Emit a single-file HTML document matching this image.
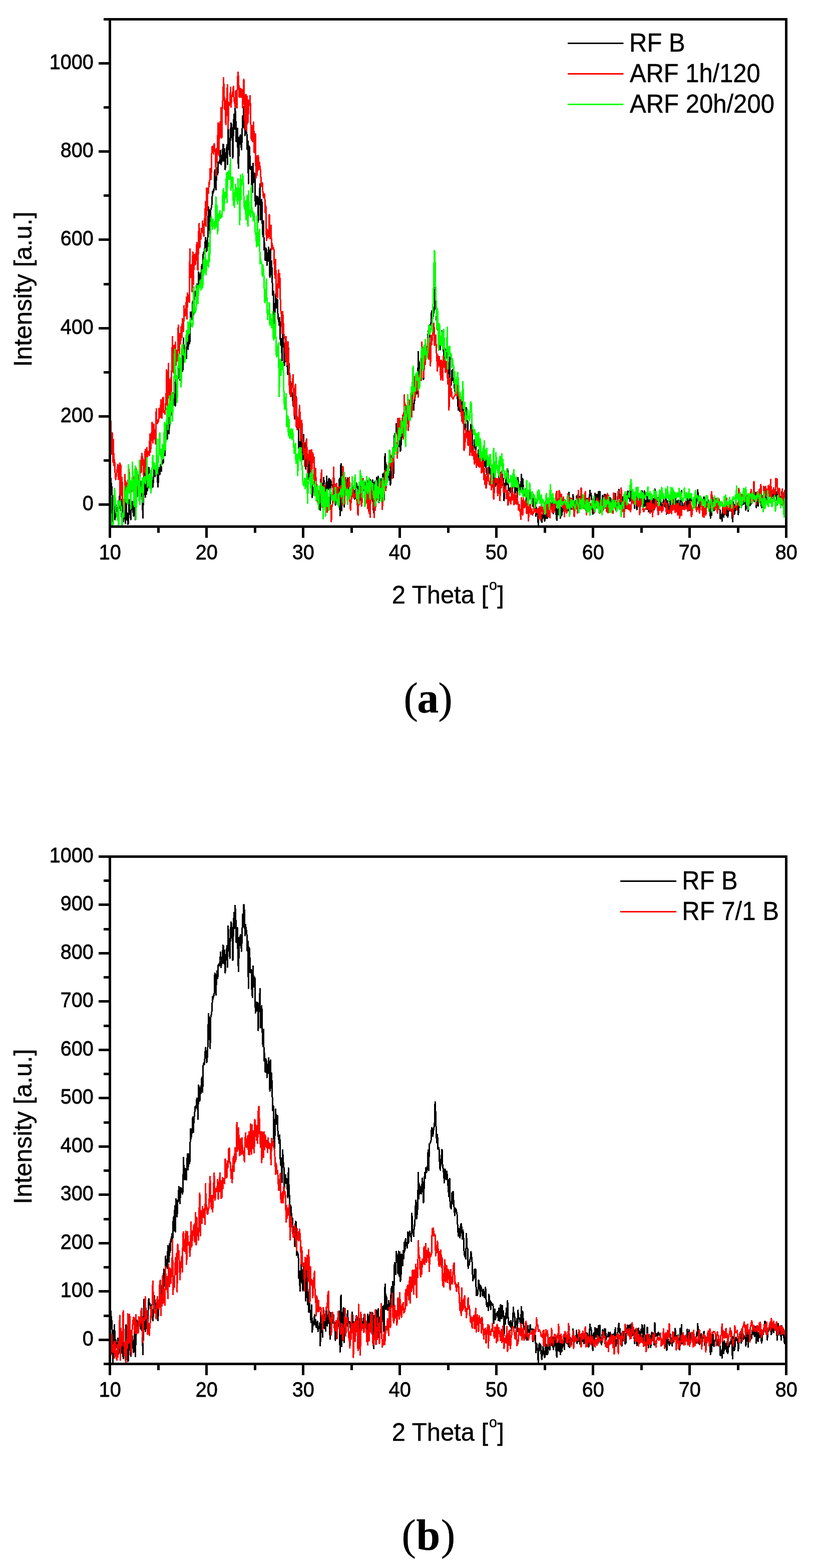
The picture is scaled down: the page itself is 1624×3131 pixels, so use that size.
<!DOCTYPE html>
<html lang="en"><head><meta charset="utf-8"><title>XRD patterns</title>
<style>
html,body{margin:0;padding:0;background:#fff;}
body{width:1624px;height:3131px;}
svg{display:block;}
.ax{fill:#000;shape-rendering:crispEdges;}
.cv{fill:none;stroke-width:3;stroke-linejoin:round;stroke-linecap:round;shape-rendering:crispEdges;}
.lg{stroke-width:3;stroke-linecap:round;shape-rendering:crispEdges;}
text{font-family:"Liberation Sans",sans-serif;fill:#000;stroke:#000;stroke-width:0.50px;}
.tl{font-size:42.70px;stroke-width:0.8px;}
.ttl{font-size:51.30px;}
.atl{font-size:50.50px;}
.cap{font-family:"Liberation Serif",serif;font-size:86px;stroke-width:0.3px;}
</style></head><body>
<svg width="1624" height="3131" viewBox="0 0 1624 3131">
<rect x="0" y="0" width="1624" height="3131" fill="#fff"/>
<clipPath id="clip1"><rect x="219.5" y="38.5" width="1351.0" height="1013.0"/></clipPath>
<g clip-path="url(#clip1)">
<polyline class="cv" stroke="#000" points="219.5,982.7 220.7,950.3 221.8,962.6 223.0,971.3 224.1,990.2 225.3,1048.2 226.4,1022.4 227.6,994.3 228.8,980.1 229.9,1037.4 231.1,1007.6 232.2,1012.7 233.4,1021.8 234.6,1019.0 235.7,1004.5 236.9,1033.7 238.0,1016.5 239.2,985.4 240.3,1007.9 241.5,1012.4 242.7,1031.7 243.8,996.4 245.0,1004.6 246.1,1041.8 247.3,1035.6 248.5,1016.4 249.6,1029.3 250.8,1044.9 251.9,979.8 253.1,1038.2 254.2,1024.5 255.4,1046.8 256.6,1045.2 257.7,998.5 258.9,1018.6 260.0,1020.5 261.2,1037.6 262.3,1012.3 263.5,1008.8 264.7,1001.0 265.8,1021.9 267.0,1030.5 268.1,1009.9 269.3,985.2 270.5,1038.0 271.6,993.4 272.8,997.5 273.9,971.8 275.1,986.5 276.2,986.5 277.4,973.3 278.6,972.4 279.7,980.6 280.9,987.5 282.0,961.8 283.2,977.5 284.3,996.5 285.5,1034.2 286.7,976.4 287.8,933.5 289.0,954.1 290.1,992.3 291.3,949.2 292.5,987.0 293.6,963.4 294.8,979.8 295.9,955.3 297.1,933.1 298.2,939.8 299.4,941.2 300.6,948.9 301.7,956.6 302.9,944.0 304.0,963.9 305.2,972.6 306.4,961.9 307.5,943.4 308.7,927.7 309.8,951.6 311.0,943.9 312.1,942.1 313.3,939.4 314.5,956.1 315.6,972.2 316.8,949.5 317.9,934.9 319.1,947.9 320.2,929.1 321.4,926.9 322.6,940.9 323.7,908.5 324.9,917.9 326.0,924.9 327.2,878.7 328.4,895.1 329.5,909.4 330.7,855.4 331.8,873.9 333.0,865.0 334.1,876.9 335.3,836.1 336.5,844.1 337.6,865.8 338.8,832.5 339.9,848.2 341.1,824.3 342.2,829.0 343.4,814.4 344.6,839.5 345.7,793.3 346.9,783.5 348.0,808.7 349.2,763.3 350.4,810.4 351.5,750.5 352.7,756.5 353.8,782.9 355.0,756.9 356.1,751.6 357.3,728.5 358.5,752.1 359.6,759.0 360.8,730.0 361.9,731.6 363.1,731.8 364.3,741.6 365.4,737.1 366.6,675.3 367.7,709.7 368.9,715.9 370.0,695.1 371.2,714.3 372.4,715.9 373.5,681.0 374.7,668.7 375.8,697.6 377.0,668.6 378.1,686.4 379.3,681.6 380.5,623.3 381.6,640.9 382.8,634.0 383.9,624.6 385.1,601.4 386.3,628.9 387.4,603.9 388.6,597.3 389.7,582.9 390.9,585.8 392.0,580.3 393.2,567.0 394.4,568.9 395.5,605.2 396.7,543.2 397.8,546.8 399.0,572.7 400.1,547.9 401.3,558.2 402.5,532.8 403.6,528.5 404.8,555.6 405.9,507.9 407.1,502.9 408.3,505.5 409.4,489.3 410.6,474.6 411.7,487.7 412.9,502.2 414.0,493.3 415.2,470.6 416.4,413.3 417.5,420.4 418.7,455.5 419.8,476.0 421.0,419.4 422.2,414.2 423.3,407.7 424.5,382.1 425.6,386.2 426.8,379.1 427.9,379.9 429.1,339.3 430.3,348.5 431.4,378.7 432.6,344.2 433.7,335.1 434.9,348.4 436.0,324.5 437.2,322.9 438.4,325.6 439.5,315.5 440.7,300.6 441.8,328.8 443.0,310.1 444.2,321.1 445.3,288.2 446.5,289.5 447.6,321.6 448.8,297.1 449.9,338.8 451.1,313.9 452.3,301.0 453.4,288.8 454.6,328.1 455.7,253.2 456.9,272.4 458.0,294.1 459.2,312.2 460.4,266.7 461.5,246.0 462.7,249.2 463.8,267.4 465.0,315.6 466.2,264.8 467.3,228.4 468.5,257.4 469.6,215.7 470.8,232.7 471.9,283.1 473.1,280.9 474.3,256.2 475.4,316.7 476.6,335.6 477.7,274.2 478.9,288.1 480.1,269.3 481.2,284.7 482.4,299.0 483.5,274.5 484.7,231.8 485.8,255.0 487.0,213.6 488.2,224.9 489.3,270.4 490.5,250.6 491.6,260.5 492.8,261.4 493.9,298.2 495.1,281.1 496.3,366.6 497.4,291.8 498.6,294.9 499.7,337.6 500.9,338.4 502.1,332.5 503.2,376.1 504.4,383.5 505.5,326.2 506.7,364.2 507.8,360.8 509.0,346.8 510.2,411.3 511.3,391.3 512.5,406.5 513.6,407.8 514.8,392.6 515.9,444.0 517.1,407.5 518.3,389.5 519.4,367.7 520.6,438.5 521.7,425.4 522.9,398.5 524.1,451.1 525.2,472.8 526.4,441.1 527.5,499.0 528.7,485.2 529.8,519.4 531.0,495.0 532.2,499.2 533.3,529.3 534.5,517.5 535.6,509.4 536.8,493.8 538.0,523.4 539.1,554.1 540.3,497.5 541.4,548.1 542.6,521.3 543.7,556.0 544.9,589.8 546.1,581.4 547.2,654.4 548.4,658.2 549.5,617.9 550.7,587.1 551.8,614.4 553.0,599.4 554.2,598.4 555.3,636.5 556.5,637.1 557.6,649.2 558.8,634.3 560.0,678.1 561.1,689.9 562.3,676.1 563.4,720.2 564.6,661.7 565.7,682.1 566.9,689.9 568.1,730.0 569.2,711.8 570.4,706.7 571.5,722.1 572.7,714.0 573.8,729.6 575.0,748.1 576.2,694.4 577.3,735.4 578.5,749.2 579.6,786.5 580.8,762.3 582.0,776.2 583.1,791.0 584.3,785.7 585.4,808.9 586.6,812.4 587.7,803.2 588.9,836.9 590.1,791.6 591.2,792.1 592.4,853.2 593.5,846.3 594.7,849.2 595.9,853.9 597.0,895.7 598.2,882.1 599.3,918.6 600.5,893.2 601.6,867.4 602.8,896.4 604.0,905.7 605.1,917.9 606.3,867.8 607.4,898.2 608.6,884.3 609.7,909.8 610.9,937.0 612.1,881.2 613.2,899.2 614.4,943.5 615.5,921.0 616.7,957.0 617.9,915.6 619.0,952.5 620.2,959.9 621.3,975.9 622.5,944.1 623.6,993.1 624.8,983.5 626.0,979.9 627.1,971.7 628.3,962.0 629.4,980.5 630.6,971.1 631.7,984.9 632.9,981.7 634.1,973.8 635.2,992.0 636.4,986.6 637.5,985.5 638.7,977.0 639.9,1018.4 641.0,956.1 642.2,989.5 643.3,985.8 644.5,1002.5 645.6,970.1 646.8,953.6 648.0,986.8 649.1,974.2 650.3,991.5 651.4,975.7 652.6,950.7 653.8,982.2 654.9,963.3 656.1,961.9 657.2,955.1 658.4,988.7 659.5,1006.3 660.7,958.1 661.9,967.1 663.0,968.7 664.2,967.9 665.3,976.5 666.5,962.5 667.6,985.2 668.8,976.3 670.0,1008.3 671.1,972.8 672.3,981.3 673.4,978.2 674.6,980.0 675.8,976.8 676.9,983.3 678.1,955.4 679.2,1029.7 680.4,930.0 681.5,926.1 682.7,1019.9 683.9,974.7 685.0,956.9 686.2,948.9 687.3,1012.1 688.5,970.6 689.6,971.2 690.8,973.2 692.0,983.3 693.1,976.9 694.3,954.5 695.4,972.9 696.6,978.2 697.8,974.7 698.9,974.4 700.1,987.0 701.2,983.1 702.4,993.3 703.5,957.1 704.7,967.9 705.9,991.3 707.0,981.5 708.2,996.5 709.3,985.9 710.5,972.8 711.7,963.9 712.8,969.1 714.0,975.1 715.1,971.3 716.3,988.8 717.4,968.9 718.6,995.6 719.8,999.0 720.9,960.2 722.1,968.2 723.2,983.7 724.4,986.0 725.5,976.7 726.7,969.1 727.9,960.9 729.0,976.5 730.2,977.7 731.3,983.3 732.5,987.5 733.7,989.8 734.8,960.7 736.0,973.5 737.1,1005.2 738.3,966.3 739.4,957.6 740.6,967.8 741.8,967.0 742.9,976.6 744.1,958.1 745.2,1010.3 746.4,1023.5 747.5,963.6 748.7,965.1 749.9,960.1 751.0,1001.8 752.2,953.6 753.3,990.0 754.5,984.1 755.7,951.2 756.8,1003.7 758.0,984.5 759.1,965.1 760.3,994.0 761.4,956.3 762.6,971.7 763.8,974.4 764.9,945.9 766.1,968.8 767.2,998.7 768.4,916.6 769.6,906.2 770.7,951.9 771.9,928.0 773.0,947.0 774.2,953.4 775.3,951.0 776.5,936.1 777.7,958.8 778.8,941.4 780.0,968.6 781.1,921.8 782.3,910.7 783.4,925.0 784.6,901.5 785.8,953.9 786.9,912.5 788.1,866.5 789.2,881.2 790.4,888.4 791.6,846.5 792.7,854.9 793.9,857.8 795.0,887.0 796.2,845.8 797.3,891.4 798.5,847.9 799.7,900.8 800.8,896.8 802.0,851.3 803.1,852.6 804.3,872.3 805.4,844.8 806.6,859.3 807.8,829.5 808.9,845.2 810.1,823.0 811.2,830.5 812.4,834.9 813.6,839.9 814.7,811.3 815.9,831.4 817.0,818.5 818.2,809.7 819.3,814.3 820.5,816.4 821.7,827.8 822.8,777.0 824.0,805.4 825.1,811.3 826.3,819.0 827.5,798.5 828.6,799.6 829.8,765.4 830.9,753.3 832.1,786.7 833.2,777.8 834.4,767.3 835.6,702.6 836.7,750.2 837.9,724.2 839.0,740.7 840.2,728.7 841.3,741.4 842.5,730.8 843.7,713.2 844.8,734.4 846.0,757.7 847.1,729.9 848.3,702.5 849.5,713.1 850.6,694.0 851.8,703.1 852.9,699.4 854.1,689.9 855.2,661.4 856.4,698.7 857.6,650.5 858.7,650.1 859.9,647.3 861.0,644.1 862.2,620.9 863.3,622.8 864.5,636.2 865.7,627.4 866.8,621.3 868.0,612.6 869.1,574.3 870.3,596.5 871.5,632.8 872.6,648.1 873.8,633.5 874.9,659.6 876.1,656.8 877.2,660.8 878.4,692.9 879.6,698.1 880.7,679.7 881.9,671.3 883.0,660.5 884.2,692.0 885.4,695.5 886.5,707.3 887.7,721.2 888.8,696.1 890.0,702.3 891.1,715.9 892.3,700.2 893.5,708.0 894.6,721.5 895.8,736.9 896.9,747.0 898.1,713.2 899.2,762.8 900.4,767.3 901.6,768.6 902.7,739.6 903.9,759.4 905.0,737.1 906.2,754.7 907.4,769.9 908.5,780.9 909.7,767.8 910.8,768.9 912.0,774.4 913.1,779.3 914.3,802.8 915.5,818.5 916.6,804.8 917.8,815.2 918.9,821.6 920.1,798.8 921.2,795.9 922.4,803.0 923.6,823.7 924.7,807.5 925.9,819.2 927.0,845.9 928.2,855.2 929.4,856.3 930.5,860.0 931.7,814.0 932.8,840.7 934.0,840.7 935.1,877.2 936.3,864.1 937.5,871.1 938.6,861.6 939.8,859.3 940.9,847.2 942.1,857.6 943.3,868.5 944.4,899.7 945.6,895.6 946.7,896.5 947.9,878.7 949.0,894.0 950.2,878.8 951.4,926.2 952.5,917.4 953.7,926.9 954.8,919.9 956.0,898.6 957.1,905.4 958.3,907.1 959.5,928.2 960.6,909.3 961.8,915.5 962.9,918.4 964.1,927.9 965.3,915.6 966.4,921.4 967.6,930.5 968.7,921.0 969.9,911.6 971.0,934.4 972.2,946.3 973.4,940.1 974.5,944.3 975.7,954.1 976.8,924.9 978.0,936.4 979.1,936.3 980.3,952.2 981.5,939.4 982.6,941.6 983.8,944.8 984.9,943.1 986.1,977.9 987.3,964.7 988.4,951.8 989.6,970.8 990.7,966.1 991.9,958.9 993.0,960.1 994.2,956.0 995.4,972.5 996.5,950.3 997.7,962.3 998.8,973.4 1000.0,943.4 1001.2,968.4 1002.3,968.7 1003.5,945.4 1004.6,964.7 1005.8,955.0 1006.9,999.9 1008.1,965.0 1009.3,978.8 1010.4,966.9 1011.6,950.0 1012.7,967.6 1013.9,936.2 1015.0,966.1 1016.2,979.8 1017.4,974.6 1018.5,980.7 1019.7,983.8 1020.8,972.6 1022.0,990.5 1023.2,982.3 1024.3,972.6 1025.5,948.4 1026.6,965.3 1027.8,959.6 1028.9,986.3 1030.1,974.0 1031.3,977.6 1032.4,969.3 1033.6,992.5 1034.7,953.9 1035.9,969.7 1037.0,967.8 1038.2,968.3 1039.4,978.1 1040.5,970.6 1041.7,947.3 1042.8,977.4 1044.0,955.7 1045.2,969.9 1046.3,986.0 1047.5,988.1 1048.6,984.9 1049.8,983.1 1050.9,975.4 1052.1,1007.9 1053.3,1007.3 1054.4,981.7 1055.6,993.4 1056.7,990.3 1057.9,995.3 1059.1,979.8 1060.2,987.3 1061.4,988.1 1062.5,990.1 1063.7,988.1 1064.8,1010.9 1066.0,988.4 1067.2,996.1 1068.3,997.5 1069.5,1000.4 1070.6,1030.7 1071.8,1013.6 1072.9,1020.9 1074.1,1027.9 1075.3,1049.4 1076.4,1018.2 1077.6,1013.8 1078.7,1026.1 1079.9,1015.5 1081.1,1034.6 1082.2,1043.0 1083.4,1034.3 1084.5,1020.1 1085.7,1024.9 1086.8,1033.4 1088.0,1040.2 1089.2,1030.7 1090.3,1015.5 1091.5,1034.6 1092.6,1017.9 1093.8,1034.3 1094.9,1026.8 1096.1,1014.7 1097.3,1003.6 1098.4,1025.8 1099.6,1009.8 1100.7,1013.8 1101.9,1017.9 1103.1,1002.3 1104.2,1012.7 1105.4,1025.5 1106.5,1018.2 1107.7,1018.0 1108.8,1002.7 1110.0,1013.7 1111.2,1031.1 1112.3,1039.0 1113.5,1014.4 1114.6,1013.3 1115.8,1028.0 1117.0,998.5 1118.1,1016.6 1119.3,1034.4 1120.4,1012.8 1121.6,1029.4 1122.7,1027.0 1123.9,1010.4 1125.1,1012.6 1126.2,1009.8 1127.4,1025.1 1128.5,1003.9 1129.7,1005.5 1130.8,1008.4 1132.0,1014.4 1133.2,1010.5 1134.3,1012.5 1135.5,1019.3 1136.6,983.1 1137.8,1021.3 1139.0,1002.6 1140.1,1015.9 1141.3,1016.4 1142.4,1007.1 1143.6,1007.8 1144.7,987.9 1145.9,1000.6 1147.1,1012.3 1148.2,1004.8 1149.4,1000.0 1150.5,1007.9 1151.7,990.5 1152.8,1014.1 1154.0,1007.2 1155.2,1010.2 1156.3,995.3 1157.5,991.4 1158.6,1015.2 1159.8,998.5 1161.0,1015.4 1162.1,1009.6 1163.3,1006.4 1164.4,1010.9 1165.6,1001.8 1166.7,1014.3 1167.9,1001.3 1169.1,1009.8 1170.2,994.3 1171.4,1014.6 1172.5,1011.9 1173.7,995.7 1174.9,1005.0 1176.0,1020.6 1177.2,1008.4 1178.3,979.1 1179.5,989.8 1180.6,985.1 1181.8,996.2 1183.0,1005.6 1184.1,1026.6 1185.3,996.9 1186.4,994.5 1187.6,1015.1 1188.7,985.4 1189.9,990.4 1191.1,1001.9 1192.2,987.2 1193.4,989.6 1194.5,1006.5 1195.7,981.8 1196.9,1011.8 1198.0,981.0 1199.2,1006.7 1200.3,1010.5 1201.5,1016.3 1202.6,1001.5 1203.8,989.2 1205.0,992.8 1206.1,997.1 1207.3,987.5 1208.4,1014.4 1209.6,987.8 1210.7,1007.4 1211.9,1002.6 1213.1,1002.4 1214.2,1000.3 1215.4,994.2 1216.5,998.8 1217.7,1009.8 1218.9,993.9 1220.0,1005.1 1221.2,1004.8 1222.3,1005.4 1223.5,1012.7 1224.6,997.4 1225.8,1012.4 1227.0,998.9 1228.1,993.6 1229.3,985.8 1230.4,1018.6 1231.6,1007.8 1232.8,1014.4 1233.9,994.4 1235.1,985.1 1236.2,977.7 1237.4,994.9 1238.5,987.5 1239.7,1006.6 1240.9,1006.5 1242.0,1018.8 1243.2,1008.4 1244.3,992.3 1245.5,1005.4 1246.6,1005.4 1247.8,991.6 1249.0,1015.5 1250.1,1013.2 1251.3,990.3 1252.4,990.8 1253.6,981.0 1254.8,994.5 1255.9,981.9 1257.1,980.7 1258.2,1000.7 1259.4,987.6 1260.5,979.0 1261.7,999.5 1262.9,1000.0 1264.0,984.8 1265.2,999.2 1266.3,992.4 1267.5,1014.4 1268.6,990.0 1269.8,988.9 1271.0,987.9 1272.1,1018.1 1273.3,994.5 1274.4,987.4 1275.6,986.8 1276.8,996.0 1277.9,1002.8 1279.1,1011.3 1280.2,988.2 1281.4,995.3 1282.5,980.4 1283.7,982.8 1284.9,1003.4 1286.0,1010.7 1287.2,980.5 1288.3,1010.5 1289.5,999.4 1290.7,1008.8 1291.8,1016.5 1293.0,984.3 1294.1,1004.3 1295.3,1022.0 1296.4,998.3 1297.6,999.3 1298.8,999.9 1299.9,1021.5 1301.1,999.1 1302.2,993.9 1303.4,1008.7 1304.5,1002.7 1305.7,995.2 1306.9,1017.3 1308.0,976.6 1309.2,1001.5 1310.3,996.4 1311.5,996.6 1312.7,1000.7 1313.8,1001.5 1315.0,993.9 1316.1,996.2 1317.3,999.1 1318.4,996.5 1319.6,1000.5 1320.8,1009.0 1321.9,1013.6 1323.1,1008.6 1324.2,1012.9 1325.4,995.6 1326.5,1005.1 1327.7,1009.7 1328.9,1012.4 1330.0,995.3 1331.2,1026.6 1332.3,1025.2 1333.5,1000.2 1334.7,1011.8 1335.8,1014.0 1337.0,1017.5 1338.1,1009.5 1339.3,997.9 1340.4,1014.2 1341.6,1004.8 1342.8,1018.7 1343.9,996.5 1345.1,1011.2 1346.2,1011.5 1347.4,1000.4 1348.6,986.9 1349.7,995.0 1350.9,1011.3 1352.0,1011.8 1353.2,1005.8 1354.3,998.8 1355.5,1016.3 1356.7,1005.3 1357.8,1025.7 1359.0,986.1 1360.1,1001.3 1361.3,979.8 1362.4,1014.8 1363.6,1012.6 1364.8,1011.9 1365.9,1009.5 1367.1,1004.5 1368.2,1006.3 1369.4,1006.5 1370.6,1009.4 1371.7,1007.5 1372.9,988.4 1374.0,1016.3 1375.2,997.3 1376.3,989.5 1377.5,1018.6 1378.7,1000.0 1379.8,995.1 1381.0,998.7 1382.1,1000.5 1383.3,999.1 1384.4,1010.5 1385.6,1014.1 1386.8,1009.2 1387.9,1007.4 1389.1,1012.0 1390.2,1013.4 1391.4,995.5 1392.6,1000.2 1393.7,978.1 1394.9,996.5 1396.0,1012.3 1397.2,1016.1 1398.3,999.9 1399.5,1005.3 1400.7,996.7 1401.8,1010.1 1403.0,1011.4 1404.1,1005.0 1405.3,994.6 1406.5,992.6 1407.6,1017.1 1408.8,1002.2 1409.9,1015.7 1411.1,1002.7 1412.2,1011.6 1413.4,1009.1 1414.6,998.3 1415.7,1010.1 1416.9,1010.8 1418.0,1013.8 1419.2,1034.3 1420.3,1015.0 1421.5,1028.8 1422.7,1006.3 1423.8,993.6 1425.0,1013.4 1426.1,1019.3 1427.3,1008.1 1428.5,1009.7 1429.6,1003.6 1430.8,1000.5 1431.9,1006.0 1433.1,1009.0 1434.2,1018.4 1435.4,1011.5 1436.6,1013.0 1437.7,1011.8 1438.9,1035.8 1440.0,1030.2 1441.2,1028.0 1442.3,1040.6 1443.5,1012.2 1444.7,1026.7 1445.8,1032.7 1447.0,1009.7 1448.1,1021.9 1449.3,1023.9 1450.5,1014.4 1451.6,1029.3 1452.8,1010.8 1453.9,1032.3 1455.1,1015.9 1456.2,1020.1 1457.4,1014.6 1458.6,1011.2 1459.7,1014.6 1460.9,1005.1 1462.0,1001.8 1463.2,1042.1 1464.4,1002.2 1465.5,1009.1 1466.7,1026.9 1467.8,1024.5 1469.0,1005.8 1470.1,1002.9 1471.3,1008.7 1472.5,1005.7 1473.6,1007.2 1474.8,1027.4 1475.9,1014.6 1477.1,1003.7 1478.2,994.7 1479.4,996.8 1480.6,1013.5 1481.7,1006.2 1482.9,1006.3 1484.0,996.2 1485.2,1007.0 1486.4,1004.2 1487.5,1001.2 1488.7,1000.2 1489.8,1018.7 1491.0,1010.9 1492.1,997.2 1493.3,993.0 1494.5,1020.8 1495.6,1002.3 1496.8,994.8 1497.9,1009.9 1499.1,1005.7 1500.2,1006.1 1501.4,1004.5 1502.6,989.9 1503.7,997.3 1504.9,983.6 1506.0,998.3 1507.2,1001.4 1508.4,998.2 1509.5,983.6 1510.7,1013.4 1511.8,1000.6 1513.0,982.3 1514.1,1010.7 1515.3,995.1 1516.5,1004.0 1517.6,1002.2 1518.8,1002.6 1519.9,985.3 1521.1,1013.3 1522.3,1008.4 1523.4,990.1 1524.6,997.6 1525.7,989.9 1526.9,979.4 1528.0,973.5 1529.2,991.2 1530.4,995.3 1531.5,993.3 1532.7,1007.7 1533.8,993.2 1535.0,991.2 1536.1,989.1 1537.3,978.6 1538.5,982.9 1539.6,989.5 1540.8,998.1 1541.9,993.4 1543.1,980.9 1544.3,983.1 1545.4,994.0 1546.6,978.4 1547.7,981.1 1548.9,989.6 1550.0,990.6 1551.2,982.7 1552.4,1007.8 1553.5,980.3 1554.7,978.1 1555.8,998.6 1557.0,988.4 1558.1,990.2 1559.3,993.0 1560.5,1008.0 1561.6,982.2 1562.8,998.7 1563.9,988.4 1565.1,988.0 1566.3,1009.8 1567.4,1014.4 1568.6,993.6 1569.7,1004.7"/>
<polyline class="cv" stroke="#f00" points="219.5,848.3 220.7,832.4 221.8,859.2 223.0,906.6 224.1,864.0 225.3,922.3 226.4,877.9 227.6,929.9 228.8,918.6 229.9,942.3 231.1,957.2 232.2,951.0 233.4,940.3 234.6,933.9 235.7,927.5 236.9,957.2 238.0,947.2 239.2,924.9 240.3,1008.7 241.5,928.7 242.7,989.0 243.8,953.0 245.0,1001.0 246.1,1009.2 247.3,996.9 248.5,1017.7 249.6,947.7 250.8,980.9 251.9,962.3 253.1,978.2 254.2,971.2 255.4,960.7 256.6,956.4 257.7,936.9 258.9,960.0 260.0,973.5 261.2,975.9 262.3,981.7 263.5,959.9 264.7,966.0 265.8,949.4 267.0,958.4 268.1,986.3 269.3,967.0 270.5,930.7 271.6,935.9 272.8,987.6 273.9,939.7 275.1,963.2 276.2,970.5 277.4,947.8 278.6,978.6 279.7,950.1 280.9,919.6 282.0,943.5 283.2,905.7 284.3,913.5 285.5,916.3 286.7,948.3 287.8,919.5 289.0,942.4 290.1,897.6 291.3,956.8 292.5,898.2 293.6,893.8 294.8,911.3 295.9,901.6 297.1,901.5 298.2,909.3 299.4,866.9 300.6,902.6 301.7,887.4 302.9,865.1 304.0,843.4 305.2,884.6 306.4,876.7 307.5,847.6 308.7,870.0 309.8,874.9 311.0,886.8 312.1,815.9 313.3,843.7 314.5,845.9 315.6,840.5 316.8,842.1 317.9,815.6 319.1,833.3 320.2,828.0 321.4,798.7 322.6,834.0 323.7,834.6 324.9,795.7 326.0,793.3 327.2,823.8 328.4,820.2 329.5,826.7 330.7,808.8 331.8,794.9 333.0,737.9 334.1,815.1 335.3,789.7 336.5,725.7 337.6,788.2 338.8,767.2 339.9,800.1 341.1,754.5 342.2,791.1 343.4,714.8 344.6,672.3 345.7,741.8 346.9,744.4 348.0,689.2 349.2,729.7 350.4,683.1 351.5,729.3 352.7,699.7 353.8,720.6 355.0,702.3 356.1,649.7 357.3,669.7 358.5,706.4 359.6,666.4 360.8,687.0 361.9,651.9 363.1,673.6 364.3,636.7 365.4,651.4 366.6,661.7 367.7,610.5 368.9,629.8 370.0,630.8 371.2,624.1 372.4,593.4 373.5,636.5 374.7,585.4 375.8,598.2 377.0,589.6 378.1,603.8 379.3,497.1 380.5,554.3 381.6,550.6 382.8,528.9 383.9,582.2 385.1,503.6 386.3,567.6 387.4,523.7 388.6,508.1 389.7,529.0 390.9,523.2 392.0,503.7 393.2,484.7 394.4,537.9 395.5,539.4 396.7,467.1 397.8,446.5 399.0,494.6 400.1,470.3 401.3,477.6 402.5,456.3 403.6,462.9 404.8,441.2 405.9,465.3 407.1,471.5 408.3,444.3 409.4,430.0 410.6,402.8 411.7,451.7 412.9,375.1 414.0,419.8 415.2,376.0 416.4,385.6 417.5,364.3 418.7,368.0 419.8,336.3 421.0,359.1 422.2,342.8 423.3,293.4 424.5,297.9 425.6,291.7 426.8,307.4 427.9,286.9 429.1,297.8 430.3,302.9 431.4,350.6 432.6,296.9 433.7,323.2 434.9,271.7 436.0,245.0 437.2,310.9 438.4,262.8 439.5,243.1 440.7,273.2 441.8,214.9 443.0,275.9 444.2,207.1 445.3,199.6 446.5,155.4 447.6,179.2 448.8,218.5 449.9,201.0 451.1,249.1 452.3,225.9 453.4,180.7 454.6,169.3 455.7,256.6 456.9,205.5 458.0,210.6 459.2,207.1 460.4,174.5 461.5,213.9 462.7,195.0 463.8,190.5 465.0,183.2 466.2,172.8 467.3,201.1 468.5,202.7 469.6,212.6 470.8,181.6 471.9,205.5 473.1,216.1 474.3,167.9 475.4,144.1 476.6,156.7 477.7,192.8 478.9,194.1 480.1,176.7 481.2,194.2 482.4,181.0 483.5,178.6 484.7,214.9 485.8,195.4 487.0,158.8 488.2,192.5 489.3,258.1 490.5,200.7 491.6,188.7 492.8,261.8 493.9,192.8 495.1,244.4 496.3,223.2 497.4,200.6 498.6,210.7 499.7,191.0 500.9,245.8 502.1,279.2 503.2,250.3 504.4,282.7 505.5,259.8 506.7,243.9 507.8,304.8 509.0,295.6 510.2,267.3 511.3,355.3 512.5,311.4 513.6,349.7 514.8,330.8 515.9,310.6 517.1,338.9 518.3,324.3 519.4,334.0 520.6,342.5 521.7,371.9 522.9,372.4 524.1,364.9 525.2,385.8 526.4,394.6 527.5,389.5 528.7,387.1 529.8,424.4 531.0,410.8 532.2,480.2 533.3,457.5 534.5,465.3 535.6,475.0 536.8,465.5 538.0,428.8 539.1,476.5 540.3,460.3 541.4,450.0 542.6,499.0 543.7,486.7 544.9,496.2 546.1,494.6 547.2,499.2 548.4,541.3 549.5,555.3 550.7,518.3 551.8,589.7 553.0,584.6 554.2,594.3 555.3,555.6 556.5,539.3 557.6,574.6 558.8,546.5 560.0,597.6 561.1,622.8 562.3,628.1 563.4,666.0 564.6,622.5 565.7,637.5 566.9,666.0 568.1,674.8 569.2,672.9 570.4,719.2 571.5,672.1 572.7,722.5 573.8,728.2 575.0,682.0 576.2,700.8 577.3,749.6 578.5,784.0 579.6,750.6 580.8,791.9 582.0,782.8 583.1,774.4 584.3,767.4 585.4,748.1 586.6,799.5 587.7,828.7 588.9,790.6 590.1,767.5 591.2,851.0 592.4,795.6 593.5,857.8 594.7,834.4 595.9,849.8 597.0,853.7 598.2,809.4 599.3,826.4 600.5,879.5 601.6,873.3 602.8,839.6 604.0,869.3 605.1,884.9 606.3,907.5 607.4,883.7 608.6,930.4 609.7,896.0 610.9,914.3 612.1,875.9 613.2,896.3 614.4,944.9 615.5,913.5 616.7,908.6 617.9,899.5 619.0,919.9 620.2,899.6 621.3,952.5 622.5,898.2 623.6,936.3 624.8,904.0 626.0,914.6 627.1,912.2 628.3,972.9 629.4,953.7 630.6,935.2 631.7,981.6 632.9,967.5 634.1,1002.5 635.2,984.3 636.4,981.0 637.5,1002.6 638.7,974.9 639.9,976.2 641.0,978.9 642.2,938.5 643.3,1012.6 644.5,983.5 645.6,977.0 646.8,1008.2 648.0,968.1 649.1,1015.8 650.3,1006.9 651.4,1018.5 652.6,1005.7 653.8,1023.0 654.9,1006.9 656.1,1005.8 657.2,1010.3 658.4,1016.8 659.5,1016.4 660.7,1009.6 661.9,1041.4 663.0,1012.4 664.2,1005.6 665.3,981.5 666.5,932.7 667.6,977.6 668.8,976.6 670.0,967.7 671.1,974.5 672.3,965.3 673.4,978.0 674.6,997.9 675.8,973.1 676.9,973.5 678.1,972.7 679.2,975.4 680.4,970.4 681.5,991.9 682.7,1002.7 683.9,1009.0 685.0,931.2 686.2,982.9 687.3,973.1 688.5,1005.5 689.6,968.7 690.8,953.9 692.0,972.6 693.1,983.3 694.3,980.5 695.4,967.2 696.6,959.8 697.8,953.5 698.9,999.9 700.1,1018.2 701.2,1002.9 702.4,994.6 703.5,987.2 704.7,975.3 705.9,976.2 707.0,994.9 708.2,990.5 709.3,986.3 710.5,989.9 711.7,995.7 712.8,998.1 714.0,1009.0 715.1,1028.4 716.3,979.1 717.4,1007.6 718.6,983.4 719.8,987.2 720.9,973.9 722.1,1010.7 723.2,1002.7 724.4,959.2 725.5,955.7 726.7,971.0 727.9,966.9 729.0,979.6 730.2,1006.8 731.3,983.9 732.5,978.7 733.7,1000.7 734.8,1015.5 736.0,982.7 737.1,1025.2 738.3,985.3 739.4,1032.5 740.6,980.9 741.8,973.0 742.9,997.6 744.1,975.3 745.2,980.1 746.4,994.9 747.5,1033.1 748.7,973.2 749.9,1018.5 751.0,958.9 752.2,997.6 753.3,990.3 754.5,971.5 755.7,995.7 756.8,965.8 758.0,986.7 759.1,972.0 760.3,961.5 761.4,968.8 762.6,975.1 763.8,1017.2 764.9,984.7 766.1,999.7 767.2,984.9 768.4,939.1 769.6,958.6 770.7,979.5 771.9,960.8 773.0,942.1 774.2,947.4 775.3,941.7 776.5,941.4 777.7,928.2 778.8,900.6 780.0,931.1 781.1,917.7 782.3,914.9 783.4,955.2 784.6,917.7 785.8,923.7 786.9,908.7 788.1,893.2 789.2,899.8 790.4,900.1 791.6,889.4 792.7,884.5 793.9,915.0 795.0,835.0 796.2,862.6 797.3,848.2 798.5,835.2 799.7,871.6 800.8,854.3 802.0,852.1 803.1,852.6 804.3,828.8 805.4,876.3 806.6,841.9 807.8,788.6 808.9,860.1 810.1,808.0 811.2,859.6 812.4,841.1 813.6,827.0 814.7,807.0 815.9,859.6 817.0,799.4 818.2,801.6 819.3,799.2 820.5,820.9 821.7,802.5 822.8,832.6 824.0,763.0 825.1,788.8 826.3,774.4 827.5,797.0 828.6,752.3 829.8,792.5 830.9,770.0 832.1,780.4 833.2,755.3 834.4,758.2 835.6,792.8 836.7,750.2 837.9,766.0 839.0,746.9 840.2,754.9 841.3,759.5 842.5,683.6 843.7,703.6 844.8,731.0 846.0,754.0 847.1,736.1 848.3,702.5 849.5,728.0 850.6,695.7 851.8,693.6 852.9,710.9 854.1,712.8 855.2,668.3 856.4,717.1 857.6,685.6 858.7,691.6 859.9,730.9 861.0,669.0 862.2,688.1 863.3,678.0 864.5,664.3 865.7,653.4 866.8,645.5 868.0,690.1 869.1,681.8 870.3,669.3 871.5,698.4 872.6,712.1 873.8,740.9 874.9,709.1 876.1,729.4 877.2,712.0 878.4,721.3 879.6,744.5 880.7,758.6 881.9,718.9 883.0,736.2 884.2,759.2 885.4,711.4 886.5,725.9 887.7,733.2 888.8,717.2 890.0,743.8 891.1,721.4 892.3,727.6 893.5,744.7 894.6,767.0 895.8,748.5 896.9,819.1 898.1,758.7 899.2,755.8 900.4,790.7 901.6,776.1 902.7,793.3 903.9,793.9 905.0,796.3 906.2,793.6 907.4,791.4 908.5,790.1 909.7,787.5 910.8,769.0 912.0,787.7 913.1,790.5 914.3,766.7 915.5,760.9 916.6,789.9 917.8,811.3 918.9,798.0 920.1,819.8 921.2,809.4 922.4,841.1 923.6,822.7 924.7,845.4 925.9,821.6 927.0,899.2 928.2,894.5 929.4,877.2 930.5,855.7 931.7,872.2 932.8,860.2 934.0,876.6 935.1,889.7 936.3,864.8 937.5,861.3 938.6,908.8 939.8,888.8 940.9,857.0 942.1,907.8 943.3,909.9 944.4,908.4 945.6,891.5 946.7,915.1 947.9,927.1 949.0,908.0 950.2,899.2 951.4,933.2 952.5,927.0 953.7,906.9 954.8,927.2 956.0,931.2 957.1,915.2 958.3,932.3 959.5,929.9 960.6,907.2 961.8,944.2 962.9,935.1 964.1,923.3 965.3,920.3 966.4,957.7 967.6,935.6 968.7,967.1 969.9,948.4 971.0,975.0 972.2,965.8 973.4,956.5 974.5,933.9 975.7,959.8 976.8,961.1 978.0,968.1 979.1,968.4 980.3,949.3 981.5,977.7 982.6,967.8 983.8,952.3 984.9,971.1 986.1,996.9 987.3,981.1 988.4,956.1 989.6,956.7 990.7,962.4 991.9,955.6 993.0,956.5 994.2,989.8 995.4,955.8 996.5,971.5 997.7,980.0 998.8,999.4 1000.0,944.8 1001.2,974.1 1002.3,940.5 1003.5,962.6 1004.6,960.6 1005.8,981.9 1006.9,982.9 1008.1,978.1 1009.3,975.1 1010.4,970.6 1011.6,995.5 1012.7,991.2 1013.9,979.3 1015.0,1008.5 1016.2,984.9 1017.4,1000.0 1018.5,992.8 1019.7,1003.4 1020.8,1006.2 1022.0,965.3 1023.2,998.9 1024.3,983.0 1025.5,989.2 1026.6,1007.5 1027.8,1005.3 1028.9,986.7 1030.1,1005.6 1031.3,1006.1 1032.4,983.9 1033.6,1006.6 1034.7,1002.1 1035.9,1018.6 1037.0,1007.2 1038.2,1017.7 1039.4,1023.3 1040.5,1036.9 1041.7,994.0 1042.8,1009.2 1044.0,1028.4 1045.2,994.3 1046.3,1004.1 1047.5,1013.5 1048.6,1010.0 1049.8,998.8 1050.9,1011.8 1052.1,1025.8 1053.3,1013.3 1054.4,1003.2 1055.6,1040.2 1056.7,1019.7 1057.9,1010.0 1059.1,1007.4 1060.2,1027.0 1061.4,1024.6 1062.5,1016.6 1063.7,1028.5 1064.8,1022.2 1066.0,1024.6 1067.2,1010.0 1068.3,1020.3 1069.5,1017.3 1070.6,1023.8 1071.8,1021.3 1072.9,1016.1 1074.1,1024.4 1075.3,1015.5 1076.4,1035.4 1077.6,1011.9 1078.7,1026.1 1079.9,1039.1 1081.1,1008.4 1082.2,1002.2 1083.4,1017.0 1084.5,1026.8 1085.7,1022.0 1086.8,1011.8 1088.0,1014.2 1089.2,1001.0 1090.3,1023.9 1091.5,1001.9 1092.6,1002.3 1093.8,1030.6 1094.9,1006.7 1096.1,1031.9 1097.3,1022.1 1098.4,1034.0 1099.6,1003.5 1100.7,1014.2 1101.9,1012.2 1103.1,1023.7 1104.2,1018.0 1105.4,1000.1 1106.5,1022.9 1107.7,1018.0 1108.8,1009.7 1110.0,1000.9 1111.2,982.2 1112.3,981.3 1113.5,1009.5 1114.6,996.8 1115.8,1012.1 1117.0,979.8 1118.1,983.2 1119.3,1007.6 1120.4,1007.5 1121.6,987.5 1122.7,1008.9 1123.9,1013.9 1125.1,992.5 1126.2,997.0 1127.4,1031.8 1128.5,1013.8 1129.7,999.0 1130.8,1019.7 1132.0,1024.5 1133.2,999.7 1134.3,986.3 1135.5,992.4 1136.6,997.9 1137.8,1001.6 1139.0,994.5 1140.1,1003.3 1141.3,1006.2 1142.4,995.3 1143.6,1016.0 1144.7,1017.2 1145.9,1011.9 1147.1,1031.9 1148.2,1018.4 1149.4,1011.1 1150.5,1003.0 1151.7,1010.0 1152.8,1014.9 1154.0,1024.7 1155.2,979.4 1156.3,1012.7 1157.5,1012.7 1158.6,1005.6 1159.8,996.7 1161.0,974.5 1162.1,1002.1 1163.3,1015.0 1164.4,993.2 1165.6,994.3 1166.7,1013.2 1167.9,1007.5 1169.1,980.9 1170.2,1003.5 1171.4,1027.9 1172.5,1016.5 1173.7,1012.2 1174.9,1000.5 1176.0,993.9 1177.2,1014.3 1178.3,1007.7 1179.5,1005.6 1180.6,1008.4 1181.8,1006.8 1183.0,1005.1 1184.1,1011.6 1185.3,1015.7 1186.4,1020.9 1187.6,1024.2 1188.7,1017.6 1189.9,1014.0 1191.1,1013.4 1192.2,994.3 1193.4,1008.7 1194.5,1006.3 1195.7,999.2 1196.9,1022.7 1198.0,1024.7 1199.2,1002.0 1200.3,1004.7 1201.5,1009.2 1202.6,1000.0 1203.8,1017.2 1205.0,1018.5 1206.1,998.3 1207.3,1002.5 1208.4,990.4 1209.6,1012.2 1210.7,994.6 1211.9,1021.7 1213.1,985.8 1214.2,1024.1 1215.4,989.0 1216.5,999.1 1217.7,1005.2 1218.9,1018.0 1220.0,1013.3 1221.2,1004.4 1222.3,1002.6 1223.5,1017.8 1224.6,1024.8 1225.8,984.2 1227.0,986.9 1228.1,1006.1 1229.3,1017.2 1230.4,1011.8 1231.6,1001.5 1232.8,1003.5 1233.9,992.2 1235.1,980.4 1236.2,1009.9 1237.4,1000.1 1238.5,1001.6 1239.7,994.0 1240.9,974.3 1242.0,1004.4 1243.2,1021.8 1244.3,1006.9 1245.5,1001.0 1246.6,1032.4 1247.8,1001.5 1249.0,1003.5 1250.1,1000.0 1251.3,1009.9 1252.4,1015.4 1253.6,1015.3 1254.8,1006.6 1255.9,1017.9 1257.1,1007.7 1258.2,1016.5 1259.4,1021.9 1260.5,1015.6 1261.7,995.4 1262.9,1003.3 1264.0,998.9 1265.2,1005.2 1266.3,994.8 1267.5,1006.7 1268.6,996.6 1269.8,997.5 1271.0,1006.5 1272.1,995.4 1273.3,1006.5 1274.4,1011.2 1275.6,1001.5 1276.8,1007.3 1277.9,1027.7 1279.1,996.7 1280.2,1006.2 1281.4,998.0 1282.5,1005.5 1283.7,1009.7 1284.9,1018.5 1286.0,1021.5 1287.2,1017.7 1288.3,1016.3 1289.5,1016.1 1290.7,1013.8 1291.8,1014.6 1293.0,1004.2 1294.1,1013.0 1295.3,1017.2 1296.4,1004.4 1297.6,1014.9 1298.8,1025.0 1299.9,989.0 1301.1,988.7 1302.2,1009.0 1303.4,1031.5 1304.5,1018.5 1305.7,1006.7 1306.9,1015.3 1308.0,1015.2 1309.2,1012.5 1310.3,985.1 1311.5,1001.9 1312.7,1008.9 1313.8,1018.0 1315.0,1027.7 1316.1,1019.1 1317.3,1005.8 1318.4,1016.3 1319.6,1018.6 1320.8,1011.2 1321.9,1022.9 1323.1,1016.7 1324.2,1018.9 1325.4,1005.1 1326.5,1008.2 1327.7,1002.8 1328.9,1000.0 1330.0,1003.6 1331.2,1025.0 1332.3,1005.7 1333.5,1021.3 1334.7,1018.8 1335.8,1025.5 1337.0,1025.0 1338.1,1017.8 1339.3,1010.0 1340.4,1021.0 1341.6,1025.9 1342.8,1008.8 1343.9,1018.8 1345.1,1012.3 1346.2,995.2 1347.4,1013.3 1348.6,1023.3 1349.7,1020.8 1350.9,1007.5 1352.0,1005.4 1353.2,1026.0 1354.3,1028.3 1355.5,1005.5 1356.7,1014.7 1357.8,1035.0 1359.0,1017.8 1360.1,1010.8 1361.3,1028.8 1362.4,1012.0 1363.6,1015.0 1364.8,1016.8 1365.9,1011.5 1367.1,1017.7 1368.2,1009.5 1369.4,1000.7 1370.6,1015.8 1371.7,1012.1 1372.9,1015.0 1374.0,1021.0 1375.2,1013.4 1376.3,1007.1 1377.5,1016.9 1378.7,1001.4 1379.8,1004.1 1381.0,1031.4 1382.1,1027.6 1383.3,1017.6 1384.4,1010.3 1385.6,1001.3 1386.8,1008.5 1387.9,1004.4 1389.1,1006.4 1390.2,1009.5 1391.4,1021.2 1392.6,1017.0 1393.7,1012.5 1394.9,1015.3 1396.0,1017.4 1397.2,1024.2 1398.3,1017.3 1399.5,998.4 1400.7,1010.1 1401.8,1008.5 1403.0,1020.1 1404.1,1031.9 1405.3,1011.3 1406.5,1032.8 1407.6,1007.6 1408.8,1001.0 1409.9,1028.4 1411.1,1009.0 1412.2,1005.9 1413.4,1008.4 1414.6,1011.3 1415.7,1003.6 1416.9,1011.0 1418.0,1003.9 1419.2,1013.3 1420.3,992.7 1421.5,982.0 1422.7,996.0 1423.8,1018.0 1425.0,1010.0 1426.1,1009.6 1427.3,1010.7 1428.5,1017.7 1429.6,1012.6 1430.8,995.0 1431.9,995.3 1433.1,1024.7 1434.2,995.5 1435.4,1017.2 1436.6,996.9 1437.7,1012.8 1438.9,1009.6 1440.0,1002.9 1441.2,1007.4 1442.3,1004.3 1443.5,1010.5 1444.7,1022.0 1445.8,1025.2 1447.0,1008.9 1448.1,1022.0 1449.3,1027.3 1450.5,1009.9 1451.6,994.7 1452.8,1013.0 1453.9,1016.3 1455.1,1018.8 1456.2,1016.5 1457.4,998.9 1458.6,1010.0 1459.7,1020.5 1460.9,1017.4 1462.0,1004.2 1463.2,1006.0 1464.4,1032.0 1465.5,1009.0 1466.7,1013.1 1467.8,1013.3 1469.0,1013.0 1470.1,990.4 1471.3,1018.1 1472.5,1006.9 1473.6,1005.2 1474.8,1010.0 1475.9,975.3 1477.1,988.8 1478.2,1003.0 1479.4,997.6 1480.6,988.4 1481.7,987.1 1482.9,999.6 1484.0,1000.6 1485.2,993.1 1486.4,984.3 1487.5,976.8 1488.7,999.5 1489.8,992.1 1491.0,988.7 1492.1,992.9 1493.3,989.1 1494.5,998.1 1495.6,996.2 1496.8,1004.8 1497.9,986.6 1499.1,1001.8 1500.2,977.1 1501.4,1003.6 1502.6,984.6 1503.7,1001.1 1504.9,999.1 1506.0,961.6 1507.2,998.4 1508.4,995.8 1509.5,995.1 1510.7,1006.8 1511.8,983.9 1513.0,983.6 1514.1,989.4 1515.3,1003.6 1516.5,978.3 1517.6,976.6 1518.8,997.8 1519.9,967.5 1521.1,993.1 1522.3,1006.0 1523.4,992.6 1524.6,1001.7 1525.7,971.2 1526.9,980.8 1528.0,991.3 1529.2,971.6 1530.4,988.7 1531.5,977.0 1532.7,985.0 1533.8,980.4 1535.0,969.5 1536.1,984.7 1537.3,992.1 1538.5,974.5 1539.6,957.1 1540.8,997.2 1541.9,986.8 1543.1,979.6 1544.3,978.3 1545.4,974.4 1546.6,996.7 1547.7,987.8 1548.9,981.5 1550.0,955.0 1551.2,966.3 1552.4,956.9 1553.5,985.1 1554.7,982.7 1555.8,996.4 1557.0,975.6 1558.1,997.3 1559.3,996.4 1560.5,1005.3 1561.6,994.9 1562.8,976.5 1563.9,1009.7 1565.1,1004.3 1566.3,988.5 1567.4,979.4 1568.6,997.0 1569.7,979.7"/>
<polyline class="cv" stroke="#0f0" points="219.5,1052.9 220.7,982.7 221.8,1018.5 223.0,1059.2 224.1,1043.6 225.3,1050.2 226.4,1042.9 227.6,994.6 228.8,975.7 229.9,991.4 231.1,1012.1 232.2,1026.0 233.4,1025.8 234.6,1038.5 235.7,1000.2 236.9,1053.7 238.0,1001.3 239.2,1000.2 240.3,1002.6 241.5,1015.0 242.7,1012.7 243.8,1050.9 245.0,1032.3 246.1,1024.7 247.3,1032.6 248.5,971.3 249.6,991.2 250.8,995.3 251.9,1002.3 253.1,973.2 254.2,1005.0 255.4,1006.2 256.6,928.6 257.7,971.9 258.9,985.0 260.0,959.3 261.2,1015.6 262.3,965.1 263.5,975.2 264.7,922.9 265.8,981.8 267.0,975.2 268.1,1011.9 269.3,940.1 270.5,931.0 271.6,1037.2 272.8,971.9 273.9,938.7 275.1,967.7 276.2,971.0 277.4,999.8 278.6,919.6 279.7,1007.1 280.9,973.5 282.0,983.9 283.2,972.1 284.3,954.2 285.5,1002.6 286.7,961.1 287.8,953.3 289.0,951.6 290.1,965.2 291.3,957.3 292.5,954.2 293.6,914.5 294.8,972.8 295.9,962.7 297.1,948.8 298.2,975.0 299.4,964.4 300.6,939.3 301.7,984.1 302.9,960.5 304.0,933.2 305.2,909.1 306.4,935.7 307.5,923.7 308.7,926.3 309.8,937.5 311.0,935.3 312.1,948.5 313.3,876.5 314.5,943.8 315.6,928.0 316.8,916.4 317.9,876.9 319.1,864.1 320.2,909.6 321.4,897.2 322.6,929.7 323.7,901.6 324.9,887.4 326.0,916.1 327.2,902.7 328.4,843.9 329.5,845.7 330.7,898.3 331.8,850.6 333.0,837.7 334.1,812.3 335.3,857.8 336.5,807.9 337.6,829.3 338.8,791.4 339.9,846.9 341.1,821.4 342.2,798.3 343.4,783.7 344.6,841.0 345.7,796.7 346.9,790.2 348.0,751.8 349.2,697.3 350.4,755.1 351.5,752.9 352.7,751.3 353.8,803.7 355.0,753.3 356.1,727.8 357.3,706.8 358.5,717.7 359.6,755.8 360.8,716.5 361.9,772.5 363.1,688.9 364.3,708.0 365.4,687.6 366.6,706.5 367.7,706.1 368.9,723.6 370.0,718.9 371.2,687.4 372.4,660.3 373.5,668.8 374.7,681.1 375.8,643.1 377.0,645.0 378.1,665.2 379.3,640.4 380.5,635.2 381.6,642.3 382.8,651.5 383.9,653.0 385.1,648.0 386.3,592.3 387.4,573.6 388.6,623.3 389.7,624.8 390.9,622.0 392.0,612.5 393.2,569.4 394.4,593.1 395.5,605.9 396.7,570.8 397.8,577.2 399.0,566.8 400.1,559.5 401.3,579.2 402.5,572.9 403.6,538.9 404.8,575.2 405.9,554.1 407.1,516.1 408.3,544.2 409.4,497.3 410.6,526.4 411.7,548.6 412.9,519.2 414.0,529.7 415.2,522.0 416.4,533.2 417.5,484.8 418.7,522.4 419.8,472.6 421.0,442.6 422.2,432.4 423.3,443.7 424.5,457.4 425.6,438.1 426.8,450.3 427.9,451.4 429.1,457.1 430.3,435.0 431.4,393.7 432.6,453.0 433.7,410.1 434.9,466.5 436.0,428.3 437.2,440.6 438.4,426.1 439.5,421.0 440.7,435.7 441.8,429.8 443.0,433.9 444.2,418.3 445.3,379.3 446.5,377.3 447.6,420.4 448.8,384.3 449.9,396.6 451.1,388.4 452.3,345.0 453.4,404.3 454.6,351.0 455.7,344.2 456.9,341.8 458.0,358.8 459.2,350.7 460.4,317.4 461.5,379.9 462.7,369.9 463.8,354.8 465.0,353.8 466.2,409.4 467.3,385.7 468.5,414.3 469.6,383.9 470.8,368.0 471.9,392.9 473.1,387.5 474.3,407.1 475.4,357.5 476.6,392.3 477.7,383.7 478.9,449.0 480.1,349.6 481.2,398.7 482.4,358.0 483.5,366.8 484.7,347.3 485.8,359.4 487.0,391.4 488.2,417.6 489.3,401.9 490.5,417.6 491.6,438.7 492.8,399.4 493.9,390.8 495.1,452.1 496.3,381.4 497.4,413.4 498.6,429.9 499.7,419.6 500.9,433.3 502.1,370.3 503.2,423.2 504.4,421.3 505.5,440.8 506.7,424.3 507.8,428.6 509.0,443.4 510.2,467.9 511.3,467.3 512.5,492.9 513.6,431.2 514.8,463.4 515.9,491.1 517.1,475.4 518.3,457.9 519.4,526.9 520.6,516.3 521.7,525.8 522.9,524.5 524.1,552.0 525.2,529.4 526.4,539.8 527.5,558.7 528.7,601.5 529.8,604.3 531.0,585.8 532.2,557.2 533.3,607.4 534.5,637.8 535.6,619.3 536.8,622.3 538.0,604.5 539.1,650.1 540.3,627.4 541.4,639.3 542.6,654.8 543.7,646.3 544.9,622.8 546.1,679.1 547.2,676.9 548.4,674.4 549.5,625.5 550.7,657.6 551.8,708.0 553.0,712.8 554.2,693.3 555.3,688.6 556.5,684.9 557.6,791.6 558.8,739.7 560.0,717.2 561.1,749.6 562.3,724.1 563.4,738.0 564.6,724.3 565.7,726.7 566.9,778.5 568.1,809.8 569.2,817.9 570.4,799.5 571.5,786.4 572.7,851.7 573.8,848.8 575.0,830.5 576.2,869.4 577.3,838.3 578.5,874.8 579.6,858.3 580.8,874.9 582.0,856.6 583.1,877.3 584.3,857.3 585.4,868.5 586.6,886.4 587.7,905.2 588.9,903.6 590.1,885.7 591.2,925.6 592.4,921.4 593.5,907.4 594.7,949.4 595.9,918.8 597.0,900.7 598.2,894.0 599.3,920.9 600.5,916.2 601.6,894.5 602.8,926.8 604.0,939.2 605.1,962.4 606.3,970.0 607.4,969.6 608.6,955.6 609.7,975.7 610.9,968.3 612.1,953.9 613.2,945.5 614.4,1004.6 615.5,970.3 616.7,963.1 617.9,955.0 619.0,953.9 620.2,944.8 621.3,985.3 622.5,959.7 623.6,938.9 624.8,958.4 626.0,967.2 627.1,967.2 628.3,989.9 629.4,972.2 630.6,961.1 631.7,999.6 632.9,997.6 634.1,970.1 635.2,989.7 636.4,1016.5 637.5,997.3 638.7,970.7 639.9,980.5 641.0,964.0 642.2,1011.0 643.3,985.6 644.5,971.8 645.6,1035.9 646.8,973.3 648.0,985.0 649.1,982.0 650.3,1030.3 651.4,1002.0 652.6,978.3 653.8,977.4 654.9,1011.4 656.1,1010.9 657.2,1018.8 658.4,979.4 659.5,975.8 660.7,981.4 661.9,985.1 663.0,999.1 664.2,998.3 665.3,989.1 666.5,989.4 667.6,1003.4 668.8,1005.1 670.0,973.1 671.1,986.0 672.3,1000.8 673.4,997.9 674.6,1007.4 675.8,986.2 676.9,1012.2 678.1,984.3 679.2,986.6 680.4,976.9 681.5,991.9 682.7,984.9 683.9,951.2 685.0,987.0 686.2,1006.8 687.3,943.1 688.5,972.0 689.6,972.2 690.8,989.1 692.0,981.8 693.1,976.6 694.3,1007.2 695.4,978.1 696.6,996.6 697.8,995.1 698.9,973.2 700.1,990.7 701.2,988.4 702.4,980.0 703.5,952.4 704.7,969.1 705.9,971.9 707.0,975.9 708.2,967.8 709.3,948.5 710.5,971.9 711.7,982.2 712.8,995.7 714.0,983.6 715.1,995.1 716.3,1005.9 717.4,963.5 718.6,985.3 719.8,939.5 720.9,965.4 722.1,950.0 723.2,990.9 724.4,993.4 725.5,963.7 726.7,958.8 727.9,965.3 729.0,1011.4 730.2,995.3 731.3,967.3 732.5,951.1 733.7,980.6 734.8,985.8 736.0,971.6 737.1,954.4 738.3,988.7 739.4,996.9 740.6,961.2 741.8,962.4 742.9,970.3 744.1,965.2 745.2,983.0 746.4,990.6 747.5,996.8 748.7,968.4 749.9,1010.2 751.0,959.0 752.2,964.3 753.3,994.2 754.5,973.0 755.7,1002.8 756.8,985.5 758.0,955.5 759.1,975.6 760.3,990.6 761.4,1001.2 762.6,984.8 763.8,954.5 764.9,954.5 766.1,1000.7 767.2,978.5 768.4,967.2 769.6,967.4 770.7,942.5 771.9,969.3 773.0,964.8 774.2,929.9 775.3,948.8 776.5,942.1 777.7,898.8 778.8,919.9 780.0,923.3 781.1,921.9 782.3,921.9 783.4,909.8 784.6,893.8 785.8,912.4 786.9,895.3 788.1,901.2 789.2,869.4 790.4,864.4 791.6,907.7 792.7,892.8 793.9,892.3 795.0,888.7 796.2,868.3 797.3,854.6 798.5,878.2 799.7,857.5 800.8,870.5 802.0,839.6 803.1,864.4 804.3,844.1 805.4,851.9 806.6,832.6 807.8,870.5 808.9,811.2 810.1,891.8 811.2,840.2 812.4,829.8 813.6,823.1 814.7,788.0 815.9,818.2 817.0,838.2 818.2,810.8 819.3,839.1 820.5,791.6 821.7,772.6 822.8,786.9 824.0,764.6 825.1,731.2 826.3,792.0 827.5,777.5 828.6,773.7 829.8,780.8 830.9,746.3 832.1,759.0 833.2,746.8 834.4,742.1 835.6,779.2 836.7,754.7 837.9,775.1 839.0,758.6 840.2,733.2 841.3,708.0 842.5,694.0 843.7,699.8 844.8,739.5 846.0,722.3 847.1,689.8 848.3,708.4 849.5,678.3 850.6,692.5 851.8,716.8 852.9,714.0 854.1,703.8 855.2,691.5 856.4,650.4 857.6,649.7 858.7,667.2 859.9,659.2 861.0,654.8 862.2,648.1 863.3,662.8 864.5,617.9 865.7,593.2 866.8,530.8 868.0,500.3 869.1,525.2 870.3,587.4 871.5,608.4 872.6,656.7 873.8,616.4 874.9,638.3 876.1,699.6 877.2,646.6 878.4,652.5 879.6,687.9 880.7,689.3 881.9,685.9 883.0,661.7 884.2,696.3 885.4,668.7 886.5,657.8 887.7,694.4 888.8,710.0 890.0,718.9 891.1,701.6 892.3,700.4 893.5,653.1 894.6,736.8 895.8,698.4 896.9,693.4 898.1,691.9 899.2,710.8 900.4,705.8 901.6,708.6 902.7,733.5 903.9,716.5 905.0,728.7 906.2,731.5 907.4,765.2 908.5,742.4 909.7,775.7 910.8,785.6 912.0,768.4 913.1,751.1 914.3,743.6 915.5,760.6 916.6,778.4 917.8,790.2 918.9,783.4 920.1,795.2 921.2,793.4 922.4,800.1 923.6,788.9 924.7,762.1 925.9,815.6 927.0,809.7 928.2,803.2 929.4,831.5 930.5,844.4 931.7,830.9 932.8,836.4 934.0,817.8 935.1,831.4 936.3,834.7 937.5,839.6 938.6,829.5 939.8,804.9 940.9,802.5 942.1,825.3 943.3,855.1 944.4,852.7 945.6,862.5 946.7,867.5 947.9,857.4 949.0,863.7 950.2,890.4 951.4,868.6 952.5,866.1 953.7,891.2 954.8,889.1 956.0,862.9 957.1,888.6 958.3,913.8 959.5,876.1 960.6,891.4 961.8,920.2 962.9,914.9 964.1,907.5 965.3,890.8 966.4,916.9 967.6,880.4 968.7,919.4 969.9,904.4 971.0,916.2 972.2,895.0 973.4,929.6 974.5,910.1 975.7,917.3 976.8,931.1 978.0,912.5 979.1,907.2 980.3,919.9 981.5,934.3 982.6,965.7 983.8,947.2 984.9,929.7 986.1,895.6 987.3,929.9 988.4,952.5 989.6,949.2 990.7,904.1 991.9,935.7 993.0,928.7 994.2,942.2 995.4,946.3 996.5,920.3 997.7,952.1 998.8,911.7 1000.0,930.5 1001.2,925.0 1002.3,906.2 1003.5,944.8 1004.6,917.6 1005.8,939.6 1006.9,939.1 1008.1,952.3 1009.3,956.3 1010.4,950.3 1011.6,940.5 1012.7,936.2 1013.9,962.5 1015.0,957.3 1016.2,965.7 1017.4,957.2 1018.5,961.8 1019.7,949.4 1020.8,950.5 1022.0,972.6 1023.2,960.4 1024.3,945.8 1025.5,972.1 1026.6,937.8 1027.8,964.2 1028.9,971.5 1030.1,954.4 1031.3,952.5 1032.4,972.6 1033.6,960.5 1034.7,965.3 1035.9,973.4 1037.0,980.2 1038.2,988.7 1039.4,980.7 1040.5,982.4 1041.7,974.1 1042.8,984.1 1044.0,985.4 1045.2,991.3 1046.3,973.4 1047.5,978.7 1048.6,981.7 1049.8,992.5 1050.9,979.3 1052.1,959.2 1053.3,1003.9 1054.4,979.4 1055.6,1009.8 1056.7,983.8 1057.9,964.9 1059.1,978.2 1060.2,982.6 1061.4,1005.6 1062.5,1005.5 1063.7,982.3 1064.8,991.2 1066.0,993.6 1067.2,989.1 1068.3,1014.0 1069.5,994.6 1070.6,997.5 1071.8,997.3 1072.9,1005.8 1074.1,980.3 1075.3,998.4 1076.4,978.6 1077.6,984.1 1078.7,1005.0 1079.9,992.6 1081.1,988.4 1082.2,1010.7 1083.4,996.5 1084.5,998.5 1085.7,1000.5 1086.8,1016.6 1088.0,1014.7 1089.2,1026.3 1090.3,992.0 1091.5,985.7 1092.6,1005.5 1093.8,1004.5 1094.9,994.6 1096.1,995.0 1097.3,1017.2 1098.4,988.6 1099.6,967.7 1100.7,995.5 1101.9,1003.5 1103.1,996.2 1104.2,985.2 1105.4,1004.7 1106.5,995.0 1107.7,1004.6 1108.8,1000.6 1110.0,999.9 1111.2,1006.1 1112.3,1002.3 1113.5,1015.2 1114.6,1013.7 1115.8,999.7 1117.0,1000.0 1118.1,1030.9 1119.3,1002.7 1120.4,994.1 1121.6,1007.0 1122.7,1002.1 1123.9,1008.1 1125.1,1002.6 1126.2,1003.4 1127.4,1002.5 1128.5,998.0 1129.7,1005.6 1130.8,1008.1 1132.0,1004.3 1133.2,1015.9 1134.3,990.3 1135.5,1010.1 1136.6,1007.6 1137.8,1031.1 1139.0,1012.9 1140.1,998.7 1141.3,997.6 1142.4,1013.7 1143.6,999.9 1144.7,1008.4 1145.9,999.9 1147.1,1011.6 1148.2,1012.5 1149.4,1017.9 1150.5,1001.8 1151.7,996.6 1152.8,1002.9 1154.0,1006.1 1155.2,1013.0 1156.3,1023.1 1157.5,995.9 1158.6,1001.0 1159.8,1004.5 1161.0,1016.9 1162.1,996.4 1163.3,1015.2 1164.4,987.9 1165.6,988.7 1166.7,1012.8 1167.9,1012.6 1169.1,1017.9 1170.2,1005.1 1171.4,999.0 1172.5,1023.0 1173.7,998.2 1174.9,1021.4 1176.0,1018.9 1177.2,1002.6 1178.3,1028.4 1179.5,1013.0 1180.6,1016.5 1181.8,1012.1 1183.0,999.4 1184.1,1008.2 1185.3,1014.8 1186.4,991.1 1187.6,1017.8 1188.7,1021.7 1189.9,1005.2 1191.1,1000.2 1192.2,1001.8 1193.4,1015.2 1194.5,1002.7 1195.7,1006.4 1196.9,1024.7 1198.0,1018.1 1199.2,1014.3 1200.3,998.1 1201.5,1021.1 1202.6,1027.7 1203.8,1011.0 1205.0,1010.8 1206.1,993.3 1207.3,1014.5 1208.4,998.3 1209.6,1005.5 1210.7,1011.7 1211.9,1000.7 1213.1,998.3 1214.2,1005.3 1215.4,992.3 1216.5,1007.2 1217.7,1023.5 1218.9,1002.3 1220.0,1015.9 1221.2,1024.0 1222.3,996.6 1223.5,1011.8 1224.6,1017.7 1225.8,999.7 1227.0,1012.3 1228.1,1010.3 1229.3,999.6 1230.4,1004.8 1231.6,1021.6 1232.8,1016.3 1233.9,1012.1 1235.1,997.9 1236.2,1003.8 1237.4,1017.5 1238.5,1011.8 1239.7,1009.7 1240.9,1031.4 1242.0,1008.7 1243.2,1002.8 1244.3,1002.6 1245.5,1014.4 1246.6,987.5 1247.8,1000.8 1249.0,981.7 1250.1,987.3 1251.3,998.4 1252.4,1007.5 1253.6,990.5 1254.8,991.1 1255.9,984.8 1257.1,992.9 1258.2,976.9 1259.4,964.4 1260.5,957.7 1261.7,974.3 1262.9,995.7 1264.0,977.8 1265.2,997.1 1266.3,998.6 1267.5,983.1 1268.6,1006.8 1269.8,982.4 1271.0,972.9 1272.1,981.7 1273.3,992.8 1274.4,972.8 1275.6,997.8 1276.8,985.6 1277.9,985.4 1279.1,994.4 1280.2,980.3 1281.4,989.4 1282.5,983.5 1283.7,1013.3 1284.9,985.0 1286.0,995.1 1287.2,990.8 1288.3,993.8 1289.5,991.5 1290.7,983.9 1291.8,984.6 1293.0,989.8 1294.1,972.5 1295.3,995.7 1296.4,985.4 1297.6,988.7 1298.8,981.9 1299.9,998.0 1301.1,986.5 1302.2,997.3 1303.4,990.2 1304.5,990.3 1305.7,990.9 1306.9,978.7 1308.0,995.1 1309.2,993.4 1310.3,981.0 1311.5,989.5 1312.7,998.3 1313.8,996.7 1315.0,997.4 1316.1,1009.6 1317.3,978.4 1318.4,979.8 1319.6,994.1 1320.8,1001.7 1321.9,973.2 1323.1,983.3 1324.2,996.4 1325.4,986.9 1326.5,994.1 1327.7,993.0 1328.9,994.2 1330.0,975.8 1331.2,993.0 1332.3,993.5 1333.5,971.9 1334.7,993.2 1335.8,1001.3 1337.0,988.3 1338.1,994.7 1339.3,997.8 1340.4,973.7 1341.6,1007.2 1342.8,999.4 1343.9,974.6 1345.1,995.3 1346.2,981.8 1347.4,1006.3 1348.6,984.8 1349.7,984.2 1350.9,988.2 1352.0,993.4 1353.2,983.9 1354.3,988.7 1355.5,991.5 1356.7,975.0 1357.8,991.9 1359.0,997.4 1360.1,982.1 1361.3,986.7 1362.4,996.7 1363.6,1001.9 1364.8,999.5 1365.9,996.7 1367.1,974.0 1368.2,985.3 1369.4,990.5 1370.6,999.3 1371.7,983.9 1372.9,993.2 1374.0,989.6 1375.2,996.2 1376.3,976.7 1377.5,993.9 1378.7,986.3 1379.8,992.3 1381.0,985.5 1382.1,996.9 1383.3,997.0 1384.4,1015.3 1385.6,993.9 1386.8,991.6 1387.9,1014.1 1389.1,979.7 1390.2,989.4 1391.4,993.3 1392.6,989.7 1393.7,990.8 1394.9,1006.1 1396.0,1002.2 1397.2,990.3 1398.3,990.1 1399.5,998.7 1400.7,993.0 1401.8,999.7 1403.0,1010.1 1404.1,1005.8 1405.3,997.2 1406.5,1001.8 1407.6,1012.9 1408.8,1011.6 1409.9,992.8 1411.1,989.0 1412.2,994.2 1413.4,990.7 1414.6,1012.8 1415.7,1020.5 1416.9,1002.4 1418.0,1003.4 1419.2,998.8 1420.3,997.3 1421.5,1017.4 1422.7,1022.0 1423.8,1010.3 1425.0,1003.0 1426.1,1011.5 1427.3,990.7 1428.5,1010.0 1429.6,999.8 1430.8,1001.4 1431.9,1003.1 1433.1,994.4 1434.2,994.8 1435.4,1007.6 1436.6,1002.8 1437.7,1015.4 1438.9,1001.9 1440.0,1009.4 1441.2,1001.0 1442.3,1009.7 1443.5,1007.6 1444.7,1011.3 1445.8,1010.4 1447.0,991.3 1448.1,1012.1 1449.3,988.6 1450.5,1008.0 1451.6,1000.9 1452.8,1008.1 1453.9,1003.7 1455.1,1013.1 1456.2,1000.5 1457.4,993.5 1458.6,1006.3 1459.7,999.5 1460.9,999.2 1462.0,1014.5 1463.2,999.2 1464.4,992.4 1465.5,997.5 1466.7,995.9 1467.8,993.7 1469.0,989.7 1470.1,1008.6 1471.3,970.5 1472.5,994.3 1473.6,989.6 1474.8,998.1 1475.9,986.2 1477.1,1009.4 1478.2,983.4 1479.4,989.8 1480.6,1013.8 1481.7,993.2 1482.9,1005.5 1484.0,997.6 1485.2,975.5 1486.4,994.5 1487.5,1001.7 1488.7,976.1 1489.8,973.8 1491.0,991.6 1492.1,1009.6 1493.3,1001.8 1494.5,985.1 1495.6,1016.4 1496.8,987.4 1497.9,988.8 1499.1,990.2 1500.2,985.9 1501.4,999.9 1502.6,1004.9 1503.7,982.8 1504.9,996.0 1506.0,988.0 1507.2,997.1 1508.4,991.0 1509.5,1000.9 1510.7,1000.7 1511.8,988.4 1513.0,993.2 1514.1,983.6 1515.3,991.0 1516.5,993.6 1517.6,1003.6 1518.8,987.1 1519.9,994.7 1521.1,1001.0 1522.3,1010.6 1523.4,996.6 1524.6,1021.6 1525.7,981.8 1526.9,996.2 1528.0,1015.7 1529.2,996.3 1530.4,1002.5 1531.5,1004.6 1532.7,1007.2 1533.8,979.9 1535.0,1012.0 1536.1,1002.8 1537.3,1003.0 1538.5,992.8 1539.6,1004.7 1540.8,995.3 1541.9,1011.8 1543.1,1009.0 1544.3,996.7 1545.4,1000.7 1546.6,992.4 1547.7,990.1 1548.9,1020.4 1550.0,1003.0 1551.2,1009.1 1552.4,1005.9 1553.5,990.5 1554.7,989.6 1555.8,1004.1 1557.0,1004.0 1558.1,994.3 1559.3,1013.4 1560.5,995.7 1561.6,1005.1 1562.8,998.3 1563.9,1006.9 1565.1,1013.2 1566.3,1032.6 1567.4,995.6 1568.6,1000.0 1569.7,1000.5"/>
</g>
<rect class="ax" x="217" y="36" width="5" height="1018"/>
<rect class="ax" x="1568" y="36" width="5" height="1018"/>
<rect class="ax" x="217" y="36" width="1356" height="5"/>
<rect class="ax" x="217" y="1049" width="1356" height="5"/>
<rect class="ax" x="197" y="1005" width="23" height="5"/>
<text class="tl" transform="translate(164.81,1018.60) scale(0.9280,1)">0</text>
<rect class="ax" x="207" y="917" width="13" height="5"/>
<rect class="ax" x="197" y="829" width="23" height="5"/>
<text class="tl" transform="translate(120.73,842.60) scale(0.9280,1)">200</text>
<rect class="ax" x="207" y="741" width="13" height="5"/>
<rect class="ax" x="197" y="653" width="23" height="5"/>
<text class="tl" transform="translate(120.73,666.60) scale(0.9280,1)">400</text>
<rect class="ax" x="207" y="565" width="13" height="5"/>
<rect class="ax" x="197" y="476" width="23" height="5"/>
<text class="tl" transform="translate(120.73,489.60) scale(0.9280,1)">600</text>
<rect class="ax" x="207" y="388" width="13" height="5"/>
<rect class="ax" x="197" y="300" width="23" height="5"/>
<text class="tl" transform="translate(120.73,313.60) scale(0.9280,1)">800</text>
<rect class="ax" x="207" y="212" width="13" height="5"/>
<rect class="ax" x="197" y="124" width="23" height="5"/>
<text class="tl" transform="translate(98.70,137.60) scale(0.9280,1)">1000</text>
<rect class="ax" x="207" y="36" width="13" height="5"/>
<rect class="ax" x="217" y="1052" width="5" height="22"/>
<text class="tl" transform="translate(197.76,1116.70) scale(0.9280,1)">10</text>
<rect class="ax" x="314" y="1052" width="5" height="12"/>
<rect class="ax" x="410" y="1052" width="5" height="22"/>
<text class="tl" transform="translate(390.76,1116.70) scale(0.9280,1)">20</text>
<rect class="ax" x="507" y="1052" width="5" height="12"/>
<rect class="ax" x="603" y="1052" width="5" height="22"/>
<text class="tl" transform="translate(583.76,1116.70) scale(0.9280,1)">30</text>
<rect class="ax" x="700" y="1052" width="5" height="12"/>
<rect class="ax" x="796" y="1052" width="5" height="22"/>
<text class="tl" transform="translate(776.76,1116.70) scale(0.9280,1)">40</text>
<rect class="ax" x="893" y="1052" width="5" height="12"/>
<rect class="ax" x="989" y="1052" width="5" height="22"/>
<text class="tl" transform="translate(969.76,1116.70) scale(0.9280,1)">50</text>
<rect class="ax" x="1086" y="1052" width="5" height="12"/>
<rect class="ax" x="1182" y="1052" width="5" height="22"/>
<text class="tl" transform="translate(1162.76,1116.70) scale(0.9280,1)">60</text>
<rect class="ax" x="1279" y="1052" width="5" height="12"/>
<rect class="ax" x="1375" y="1052" width="5" height="22"/>
<text class="tl" transform="translate(1355.76,1116.70) scale(0.9280,1)">70</text>
<rect class="ax" x="1472" y="1052" width="5" height="12"/>
<rect class="ax" x="1568" y="1052" width="5" height="22"/>
<text class="tl" transform="translate(1548.76,1116.70) scale(0.9280,1)">80</text>
<text class="atl" transform="translate(63.05,732.50) rotate(-90) scale(0.9862,1)">Intensity [a.u.]</text>
<text class="atl" transform="translate(782.84,1204.80) scale(0.9696,1)">2 Theta [<tspan font-size="29.5px" dx="1.98" dy="-26.9">o</tspan><tspan dx="0.30" dy="26.9">]</tspan></text>
<line class="lg" stroke="#000" x1="1135.5" y1="86.5" x2="1244.2" y2="86.5"/>
<text class="ttl" transform="translate(1257.08,102.90) scale(0.9542,1)">RF B</text>
<line class="lg" stroke="#f00" x1="1135.5" y1="147.5" x2="1244.2" y2="147.5"/>
<text class="ttl" transform="translate(1258.00,163.90) scale(0.9523,1)">ARF 1h/120</text>
<line class="lg" stroke="#0f0" x1="1135.5" y1="208.5" x2="1244.2" y2="208.5"/>
<text class="ttl" transform="translate(1258.00,224.90) scale(0.9561,1)">ARF 20h/200</text>
<clipPath id="clip2"><rect x="219.5" y="1710.5" width="1351.0" height="1013.0"/></clipPath>
<g clip-path="url(#clip2)">
<polyline class="cv" stroke="#000" points="219.5,2648.1 220.7,2612.7 221.8,2626.2 223.0,2635.7 224.1,2656.4 225.3,2719.8 226.4,2691.6 227.6,2660.8 228.8,2645.3 229.9,2708.0 231.1,2675.4 232.2,2681.0 233.4,2691.0 234.6,2687.9 235.7,2672.0 236.9,2704.0 238.0,2685.1 239.2,2651.1 240.3,2675.7 241.5,2680.7 242.7,2701.8 243.8,2663.1 245.0,2672.1 246.1,2712.9 247.3,2706.1 248.5,2685.0 249.6,2699.2 250.8,2716.2 251.9,2645.0 253.1,2708.9 254.2,2693.9 255.4,2718.3 256.6,2716.6 257.7,2665.5 258.9,2687.4 260.0,2689.5 261.2,2708.2 262.3,2680.5 263.5,2676.8 264.7,2668.2 265.8,2691.0 267.0,2700.5 268.1,2678.0 269.3,2650.8 270.5,2708.7 271.6,2659.8 272.8,2664.3 273.9,2636.2 275.1,2652.3 276.2,2652.3 277.4,2637.8 278.6,2636.9 279.7,2645.9 280.9,2653.4 282.0,2625.2 283.2,2642.5 284.3,2663.2 285.5,2704.6 286.7,2641.3 287.8,2594.2 289.0,2616.9 290.1,2658.6 291.3,2611.4 292.5,2652.8 293.6,2627.0 294.8,2645.0 295.9,2618.1 297.1,2593.8 298.2,2601.2 299.4,2602.7 300.6,2611.1 301.7,2619.5 302.9,2605.8 304.0,2627.5 305.2,2637.1 306.4,2625.4 307.5,2605.1 308.7,2587.9 309.8,2614.0 311.0,2605.6 312.1,2603.7 313.3,2600.7 314.5,2619.0 315.6,2636.7 316.8,2611.7 317.9,2595.7 319.1,2610.0 320.2,2589.4 321.4,2587.0 322.6,2602.4 323.7,2566.8 324.9,2577.2 326.0,2584.9 327.2,2534.2 328.4,2552.2 329.5,2567.9 330.7,2508.7 331.8,2529.0 333.0,2519.3 334.1,2532.3 335.3,2487.6 336.5,2496.4 337.6,2520.1 338.8,2483.7 339.9,2500.9 341.1,2474.7 342.2,2479.8 343.4,2463.8 344.6,2491.3 345.7,2440.7 346.9,2429.9 348.0,2457.6 349.2,2407.9 350.4,2459.4 351.5,2393.8 352.7,2400.4 353.8,2429.3 355.0,2400.8 356.1,2395.0 357.3,2369.7 358.5,2395.6 359.6,2403.1 360.8,2371.4 361.9,2373.1 363.1,2373.4 364.3,2384.1 365.4,2379.2 366.6,2311.5 367.7,2349.2 368.9,2356.0 370.0,2333.2 371.2,2354.1 372.4,2355.9 373.5,2317.7 374.7,2304.2 375.8,2335.9 377.0,2304.1 378.1,2323.7 379.3,2318.4 380.5,2254.6 381.6,2273.8 382.8,2266.2 383.9,2255.9 385.1,2230.5 386.3,2260.7 387.4,2233.3 388.6,2226.0 389.7,2210.3 390.9,2213.4 392.0,2207.4 393.2,2192.9 394.4,2194.9 395.5,2234.7 396.7,2166.8 397.8,2170.7 399.0,2199.1 400.1,2172.0 401.3,2183.3 402.5,2155.4 403.6,2150.7 404.8,2180.4 405.9,2128.1 407.1,2122.6 408.3,2125.5 409.4,2107.7 410.6,2091.7 411.7,2106.1 412.9,2121.9 414.0,2112.2 415.2,2087.3 416.4,2024.5 417.5,2032.3 418.7,2070.8 419.8,2093.3 421.0,2031.2 422.2,2025.5 423.3,2018.4 424.5,1990.4 425.6,1994.8 426.8,1987.1 427.9,1988.0 429.1,1943.5 430.3,1953.6 431.4,1986.7 432.6,1948.9 433.7,1938.9 434.9,1953.5 436.0,1927.3 437.2,1925.6 438.4,1928.5 439.5,1917.5 440.7,1901.1 441.8,1931.9 443.0,1911.5 444.2,1923.6 445.3,1887.6 446.5,1889.0 447.6,1924.2 448.8,1897.3 449.9,1943.0 451.1,1915.6 452.3,1901.5 453.4,1888.1 454.6,1931.3 455.7,1849.2 456.9,1870.2 458.0,1894.0 459.2,1913.9 460.4,1864.0 461.5,1841.3 462.7,1844.8 463.8,1864.8 465.0,1917.6 466.2,1861.9 467.3,1822.0 468.5,1853.8 469.6,1808.1 470.8,1826.7 471.9,1881.9 473.1,1879.6 474.3,1852.5 475.4,1918.7 476.6,1939.5 477.7,1872.1 478.9,1887.4 480.1,1866.8 481.2,1883.7 482.4,1899.3 483.5,1872.6 484.7,1825.8 485.8,1851.2 487.0,1805.9 488.2,1818.2 489.3,1868.1 490.5,1846.3 491.6,1857.2 492.8,1858.1 493.9,1898.5 495.1,1879.8 496.3,1973.4 497.4,1891.5 498.6,1894.8 499.7,1941.7 500.9,1942.5 502.1,1936.1 503.2,1983.8 504.4,1991.9 505.5,1929.1 506.7,1970.8 507.8,1967.0 509.0,1951.7 510.2,2022.4 511.3,2000.4 512.5,2017.1 513.6,2018.5 514.8,2001.9 515.9,2058.1 517.1,2018.2 518.3,1998.4 519.4,1974.6 520.6,2052.1 521.7,2037.8 522.9,2008.3 524.1,2065.9 525.2,2089.7 526.4,2055.0 527.5,2118.3 528.7,2103.3 529.8,2140.8 531.0,2114.1 532.2,2118.6 533.3,2151.6 534.5,2138.7 535.6,2129.8 536.8,2112.7 538.0,2145.1 539.1,2178.7 540.3,2116.8 541.4,2172.2 542.6,2142.8 543.7,2180.8 544.9,2217.8 546.1,2208.7 547.2,2288.6 548.4,2292.8 549.5,2248.7 550.7,2214.8 551.8,2244.8 553.0,2228.4 554.2,2227.3 555.3,2269.0 556.5,2269.6 557.6,2282.9 558.8,2266.6 560.0,2314.5 561.1,2327.5 562.3,2312.4 563.4,2360.7 564.6,2296.6 565.7,2318.9 566.9,2327.5 568.1,2371.4 569.2,2351.4 570.4,2345.8 571.5,2362.7 572.7,2353.8 573.8,2371.0 575.0,2391.3 576.2,2332.4 577.3,2377.3 578.5,2392.5 579.6,2433.2 580.8,2406.8 582.0,2422.0 583.1,2438.1 584.3,2432.4 585.4,2457.8 586.6,2461.7 587.7,2451.5 588.9,2488.5 590.1,2438.9 591.2,2439.4 592.4,2506.3 593.5,2498.8 594.7,2502.0 595.9,2507.0 597.0,2552.9 598.2,2538.0 599.3,2577.9 600.5,2550.2 601.6,2521.8 602.8,2553.6 604.0,2563.8 605.1,2577.2 606.3,2522.3 607.4,2555.6 608.6,2540.4 609.7,2568.3 610.9,2598.1 612.1,2536.9 613.2,2556.7 614.4,2605.2 615.5,2580.6 616.7,2620.0 617.9,2574.7 619.0,2615.0 620.2,2623.1 621.3,2640.7 622.5,2605.9 623.6,2659.6 624.8,2649.0 626.0,2645.1 627.1,2636.1 628.3,2625.5 629.4,2645.8 630.6,2635.4 631.7,2650.5 632.9,2647.1 634.1,2638.3 635.2,2658.3 636.4,2652.4 637.5,2651.2 638.7,2641.9 639.9,2687.2 641.0,2619.0 642.2,2655.6 643.3,2651.5 644.5,2669.8 645.6,2634.3 646.8,2616.2 648.0,2652.6 649.1,2638.8 650.3,2657.8 651.4,2640.5 652.6,2613.1 653.8,2647.6 654.9,2626.9 656.1,2625.4 657.2,2617.9 658.4,2654.7 659.5,2674.0 660.7,2621.2 661.9,2631.0 663.0,2632.8 664.2,2632.0 665.3,2641.4 666.5,2626.0 667.6,2650.8 668.8,2641.1 670.0,2676.2 671.1,2637.3 672.3,2646.6 673.4,2643.2 674.6,2645.2 675.8,2641.7 676.9,2648.8 678.1,2618.3 679.2,2699.6 680.4,2590.5 681.5,2586.2 682.7,2688.9 683.9,2639.4 685.0,2619.9 686.2,2611.1 687.3,2680.3 688.5,2634.9 689.6,2635.6 690.8,2637.8 692.0,2648.8 693.1,2641.8 694.3,2617.2 695.4,2637.4 696.6,2643.2 697.8,2639.4 698.9,2639.0 700.1,2652.8 701.2,2648.6 702.4,2659.7 703.5,2620.1 704.7,2631.9 705.9,2657.5 707.0,2646.8 708.2,2663.2 709.3,2651.6 710.5,2637.3 711.7,2627.5 712.8,2633.2 714.0,2639.8 715.1,2635.7 716.3,2654.8 717.4,2633.0 718.6,2662.3 719.8,2665.9 720.9,2623.5 722.1,2632.2 723.2,2649.3 724.4,2651.7 725.5,2641.6 726.7,2633.3 727.9,2624.3 729.0,2641.4 730.2,2642.6 731.3,2648.8 732.5,2653.4 733.7,2656.0 734.8,2624.1 736.0,2638.0 737.1,2672.8 738.3,2630.1 739.4,2620.6 740.6,2631.8 741.8,2631.0 742.9,2641.5 744.1,2621.2 745.2,2678.4 746.4,2692.8 747.5,2627.2 748.7,2628.8 749.9,2623.4 751.0,2669.1 752.2,2616.2 753.3,2656.2 754.5,2649.7 755.7,2613.7 756.8,2671.1 758.0,2650.1 759.1,2628.9 760.3,2660.5 761.4,2619.2 762.6,2636.1 763.8,2639.1 764.9,2607.9 766.1,2632.9 767.2,2665.7 768.4,2575.7 769.6,2564.4 770.7,2614.4 771.9,2588.2 773.0,2609.0 774.2,2616.1 775.3,2613.5 776.5,2597.1 777.7,2622.0 778.8,2602.9 780.0,2632.7 781.1,2581.4 782.3,2569.3 783.4,2585.0 784.6,2559.2 785.8,2616.6 786.9,2571.3 788.1,2520.9 789.2,2537.0 790.4,2544.8 791.6,2499.0 792.7,2508.1 793.9,2511.3 795.0,2543.3 796.2,2498.2 797.3,2548.1 798.5,2500.5 799.7,2558.4 800.8,2554.0 802.0,2504.2 803.1,2505.6 804.3,2527.2 805.4,2497.2 806.6,2513.0 807.8,2480.4 808.9,2497.6 810.1,2473.2 811.2,2481.5 812.4,2486.3 813.6,2491.8 814.7,2460.4 815.9,2482.4 817.0,2468.3 818.2,2458.7 819.3,2463.7 820.5,2466.0 821.7,2478.5 822.8,2422.8 824.0,2454.0 825.1,2460.4 826.3,2468.8 827.5,2446.4 828.6,2447.6 829.8,2410.1 830.9,2396.9 832.1,2433.5 833.2,2423.8 834.4,2412.2 835.6,2341.4 836.7,2393.5 837.9,2365.1 839.0,2383.1 840.2,2370.0 841.3,2383.9 842.5,2372.3 843.7,2352.9 844.8,2376.2 846.0,2401.7 847.1,2371.3 848.3,2341.3 849.5,2352.9 850.6,2331.9 851.8,2341.9 852.9,2337.9 854.1,2327.5 855.2,2296.3 856.4,2337.1 857.6,2284.3 858.7,2283.9 859.9,2280.8 861.0,2277.3 862.2,2251.9 863.3,2254.0 864.5,2268.7 865.7,2259.0 866.8,2252.4 868.0,2242.8 869.1,2200.8 870.3,2225.1 871.5,2265.0 872.6,2281.7 873.8,2265.7 874.9,2294.3 876.1,2291.2 877.2,2295.6 878.4,2330.7 879.6,2336.4 880.7,2316.3 881.9,2307.1 883.0,2295.3 884.2,2329.8 885.4,2333.6 886.5,2346.6 887.7,2361.7 888.8,2334.2 890.0,2341.1 891.1,2356.0 892.3,2338.8 893.5,2347.3 894.6,2362.0 895.8,2379.0 896.9,2390.0 898.1,2353.0 899.2,2407.3 900.4,2412.2 901.6,2413.7 902.7,2382.0 903.9,2403.6 905.0,2379.2 906.2,2398.5 907.4,2415.1 908.5,2427.1 909.7,2412.8 910.8,2414.0 912.0,2420.0 913.1,2425.4 914.3,2451.1 915.5,2468.3 916.6,2453.3 917.8,2464.6 918.9,2471.7 920.1,2446.7 921.2,2443.6 922.4,2451.4 923.6,2474.1 924.7,2456.2 925.9,2469.0 927.0,2498.4 928.2,2508.5 929.4,2509.7 930.5,2513.8 931.7,2463.4 932.8,2492.7 934.0,2492.7 935.1,2532.6 936.3,2518.3 937.5,2526.0 938.6,2515.5 939.8,2513.0 940.9,2499.7 942.1,2511.1 943.3,2523.1 944.4,2557.2 945.6,2552.7 946.7,2553.8 947.9,2534.2 949.0,2551.0 950.2,2534.4 951.4,2586.3 952.5,2576.7 953.7,2587.0 954.8,2579.4 956.0,2556.1 957.1,2563.4 958.3,2565.4 959.5,2588.5 960.6,2567.8 961.8,2574.6 962.9,2577.7 964.1,2588.1 965.3,2574.6 966.4,2581.1 967.6,2590.9 968.7,2580.6 969.9,2570.3 971.0,2595.3 972.2,2608.3 973.4,2601.5 974.5,2606.1 975.7,2616.9 976.8,2584.9 978.0,2597.5 979.1,2597.3 980.3,2614.7 981.5,2600.7 982.6,2603.2 983.8,2606.6 984.9,2604.8 986.1,2642.8 987.3,2628.4 988.4,2614.3 989.6,2635.1 990.7,2630.0 991.9,2622.1 993.0,2623.4 994.2,2618.9 995.4,2636.9 996.5,2612.6 997.7,2625.8 998.8,2637.9 1000.0,2605.1 1001.2,2632.5 1002.3,2632.8 1003.5,2607.3 1004.6,2628.5 1005.8,2617.8 1006.9,2667.0 1008.1,2628.8 1009.3,2643.9 1010.4,2630.8 1011.6,2612.4 1012.7,2631.6 1013.9,2597.2 1015.0,2630.0 1016.2,2645.0 1017.4,2639.3 1018.5,2646.0 1019.7,2649.4 1020.8,2637.1 1022.0,2656.7 1023.2,2647.7 1024.3,2637.0 1025.5,2610.5 1026.6,2629.1 1027.8,2622.8 1028.9,2652.1 1030.1,2638.6 1031.3,2642.6 1032.4,2633.5 1033.6,2658.9 1034.7,2616.6 1035.9,2633.9 1037.0,2631.8 1038.2,2632.4 1039.4,2643.1 1040.5,2634.9 1041.7,2609.4 1042.8,2642.4 1044.0,2618.5 1045.2,2634.1 1046.3,2651.7 1047.5,2654.0 1048.6,2650.6 1049.8,2648.5 1050.9,2640.2 1052.1,2675.8 1053.3,2675.1 1054.4,2647.1 1055.6,2659.8 1056.7,2656.4 1057.9,2661.9 1059.1,2644.9 1060.2,2653.1 1061.4,2654.0 1062.5,2656.3 1063.7,2654.0 1064.8,2679.0 1066.0,2654.4 1067.2,2662.8 1068.3,2664.3 1069.5,2667.5 1070.6,2700.8 1071.8,2682.0 1072.9,2690.0 1074.1,2697.6 1075.3,2721.2 1076.4,2687.0 1077.6,2682.2 1078.7,2695.7 1079.9,2684.1 1081.1,2705.0 1082.2,2714.2 1083.4,2704.7 1084.5,2689.2 1085.7,2694.4 1086.8,2703.7 1088.0,2711.1 1089.2,2700.7 1090.3,2684.0 1091.5,2705.0 1092.6,2686.7 1093.8,2704.6 1094.9,2696.4 1096.1,2683.1 1097.3,2671.0 1098.4,2695.4 1099.6,2677.8 1100.7,2682.2 1101.9,2686.7 1103.1,2669.6 1104.2,2681.0 1105.4,2695.0 1106.5,2687.0 1107.7,2686.8 1108.8,2670.0 1110.0,2682.1 1111.2,2701.1 1112.3,2709.8 1113.5,2682.9 1114.6,2681.6 1115.8,2697.8 1117.0,2665.4 1118.1,2685.3 1119.3,2704.7 1120.4,2681.2 1121.6,2699.3 1122.7,2696.7 1123.9,2678.5 1125.1,2680.9 1126.2,2677.8 1127.4,2694.6 1128.5,2671.3 1129.7,2673.1 1130.8,2676.3 1132.0,2682.8 1133.2,2678.6 1134.3,2680.8 1135.5,2688.2 1136.6,2648.6 1137.8,2690.5 1139.0,2669.9 1140.1,2684.5 1141.3,2685.0 1142.4,2674.8 1143.6,2675.6 1144.7,2653.9 1145.9,2667.8 1147.1,2680.5 1148.2,2672.3 1149.4,2667.1 1150.5,2675.8 1151.7,2656.7 1152.8,2682.5 1154.0,2675.0 1155.2,2678.3 1156.3,2661.9 1157.5,2657.6 1158.6,2683.7 1159.8,2665.4 1161.0,2683.9 1162.1,2677.6 1163.3,2674.1 1164.4,2679.0 1165.6,2669.1 1166.7,2682.8 1167.9,2668.5 1169.1,2677.8 1170.2,2660.8 1171.4,2683.1 1172.5,2680.1 1173.7,2662.4 1174.9,2672.5 1176.0,2689.6 1177.2,2676.3 1178.3,2644.2 1179.5,2655.9 1180.6,2650.8 1181.8,2662.9 1183.0,2673.2 1184.1,2696.3 1185.3,2663.7 1186.4,2661.1 1187.6,2683.6 1188.7,2651.1 1189.9,2656.6 1191.1,2669.2 1192.2,2653.1 1193.4,2655.7 1194.5,2674.2 1195.7,2647.2 1196.9,2680.0 1198.0,2646.2 1199.2,2674.4 1200.3,2678.6 1201.5,2685.0 1202.6,2668.8 1203.8,2655.2 1205.0,2659.2 1206.1,2663.9 1207.3,2653.4 1208.4,2682.8 1209.6,2653.8 1210.7,2675.2 1211.9,2669.9 1213.1,2669.7 1214.2,2667.4 1215.4,2660.7 1216.5,2665.8 1217.7,2677.8 1218.9,2660.4 1220.0,2672.7 1221.2,2672.4 1222.3,2673.1 1223.5,2681.0 1224.6,2664.3 1225.8,2680.6 1227.0,2665.8 1228.1,2660.1 1229.3,2651.5 1230.4,2687.5 1231.6,2675.6 1232.8,2682.8 1233.9,2661.0 1235.1,2650.7 1236.2,2642.7 1237.4,2661.6 1238.5,2653.4 1239.7,2674.3 1240.9,2674.2 1242.0,2687.7 1243.2,2676.3 1244.3,2658.7 1245.5,2672.9 1246.6,2673.0 1247.8,2657.9 1249.0,2684.1 1250.1,2681.6 1251.3,2656.5 1252.4,2657.0 1253.6,2646.2 1254.8,2661.1 1255.9,2647.3 1257.1,2646.0 1258.2,2667.9 1259.4,2653.5 1260.5,2644.1 1261.7,2666.5 1262.9,2667.1 1264.0,2650.5 1265.2,2666.2 1266.3,2658.8 1267.5,2682.9 1268.6,2656.2 1269.8,2655.0 1271.0,2653.9 1272.1,2687.0 1273.3,2661.1 1274.4,2653.2 1275.6,2652.6 1276.8,2662.7 1277.9,2670.2 1279.1,2679.4 1280.2,2654.1 1281.4,2661.9 1282.5,2645.7 1283.7,2648.2 1284.9,2670.9 1286.0,2678.8 1287.2,2645.7 1288.3,2678.6 1289.5,2666.5 1290.7,2676.7 1291.8,2685.2 1293.0,2649.9 1294.1,2671.8 1295.3,2691.2 1296.4,2665.2 1297.6,2666.3 1298.8,2667.0 1299.9,2690.6 1301.1,2666.1 1302.2,2660.4 1303.4,2676.7 1304.5,2670.1 1305.7,2661.9 1306.9,2686.1 1308.0,2641.4 1309.2,2668.7 1310.3,2663.1 1311.5,2663.4 1312.7,2667.9 1313.8,2668.7 1315.0,2660.4 1316.1,2662.9 1317.3,2666.1 1318.4,2663.2 1319.6,2667.7 1320.8,2676.9 1321.9,2682.0 1323.1,2676.5 1324.2,2681.2 1325.4,2662.3 1326.5,2672.7 1327.7,2677.7 1328.9,2680.7 1330.0,2661.9 1331.2,2696.2 1332.3,2694.7 1333.5,2667.3 1334.7,2680.0 1335.8,2682.4 1337.0,2686.2 1338.1,2677.5 1339.3,2664.8 1340.4,2682.6 1341.6,2672.3 1342.8,2687.6 1343.9,2663.2 1345.1,2679.4 1346.2,2679.7 1347.4,2667.6 1348.6,2652.7 1349.7,2661.6 1350.9,2679.5 1352.0,2680.0 1353.2,2673.4 1354.3,2665.8 1355.5,2685.0 1356.7,2672.9 1357.8,2695.2 1359.0,2651.9 1360.1,2668.5 1361.3,2645.0 1362.4,2683.3 1363.6,2680.9 1364.8,2680.2 1365.9,2677.5 1367.1,2672.1 1368.2,2674.0 1369.4,2674.2 1370.6,2677.4 1371.7,2675.3 1372.9,2654.3 1374.0,2685.0 1375.2,2664.2 1376.3,2655.6 1377.5,2687.4 1378.7,2667.1 1379.8,2661.8 1381.0,2665.7 1382.1,2667.6 1383.3,2666.1 1384.4,2678.6 1385.6,2682.5 1386.8,2677.1 1387.9,2675.2 1389.1,2680.2 1390.2,2681.8 1391.4,2662.1 1392.6,2667.3 1393.7,2643.1 1394.9,2663.3 1396.0,2680.5 1397.2,2684.8 1398.3,2667.0 1399.5,2672.9 1400.7,2663.5 1401.8,2678.1 1403.0,2679.6 1404.1,2672.6 1405.3,2661.1 1406.5,2658.9 1407.6,2685.8 1408.8,2669.5 1409.9,2684.3 1411.1,2670.1 1412.2,2679.8 1413.4,2677.1 1414.6,2665.2 1415.7,2678.2 1416.9,2679.0 1418.0,2682.3 1419.2,2704.7 1420.3,2683.5 1421.5,2698.7 1422.7,2674.0 1423.8,2660.0 1425.0,2681.8 1426.1,2688.2 1427.3,2676.0 1428.5,2677.7 1429.6,2671.1 1430.8,2667.6 1431.9,2673.7 1433.1,2677.0 1434.2,2687.2 1435.4,2679.6 1436.6,2681.3 1437.7,2680.0 1438.9,2706.3 1440.0,2700.1 1441.2,2697.7 1442.3,2711.5 1443.5,2680.5 1444.7,2696.3 1445.8,2702.9 1447.0,2677.7 1448.1,2691.0 1449.3,2693.2 1450.5,2682.8 1451.6,2699.2 1452.8,2678.9 1453.9,2702.5 1455.1,2684.5 1456.2,2689.1 1457.4,2683.0 1458.6,2679.4 1459.7,2683.1 1460.9,2672.7 1462.0,2669.0 1463.2,2713.2 1464.4,2669.5 1465.5,2677.1 1466.7,2696.6 1467.8,2693.9 1469.0,2673.4 1470.1,2670.3 1471.3,2676.6 1472.5,2673.3 1473.6,2675.0 1474.8,2697.1 1475.9,2683.1 1477.1,2671.2 1478.2,2661.2 1479.4,2663.6 1480.6,2681.9 1481.7,2673.9 1482.9,2674.0 1484.0,2663.0 1485.2,2674.8 1486.4,2671.7 1487.5,2668.4 1488.7,2667.3 1489.8,2687.6 1491.0,2679.0 1492.1,2664.0 1493.3,2659.5 1494.5,2689.8 1495.6,2669.6 1496.8,2661.4 1497.9,2677.9 1499.1,2673.3 1500.2,2673.7 1501.4,2672.0 1502.6,2656.1 1503.7,2664.1 1504.9,2649.1 1506.0,2665.3 1507.2,2668.6 1508.4,2665.1 1509.5,2649.2 1510.7,2681.8 1511.8,2667.8 1513.0,2647.7 1514.1,2678.8 1515.3,2661.7 1516.5,2671.4 1517.6,2669.5 1518.8,2670.0 1519.9,2651.0 1521.1,2681.7 1522.3,2676.2 1523.4,2656.2 1524.6,2664.5 1525.7,2656.0 1526.9,2644.5 1528.0,2638.1 1529.2,2657.5 1530.4,2661.9 1531.5,2659.7 1532.7,2675.6 1533.8,2659.7 1535.0,2657.5 1536.1,2655.2 1537.3,2643.7 1538.5,2648.4 1539.6,2655.6 1540.8,2665.0 1541.9,2659.9 1543.1,2646.2 1544.3,2648.6 1545.4,2660.5 1546.6,2643.5 1547.7,2646.4 1548.9,2655.7 1550.0,2656.8 1551.2,2648.2 1552.4,2675.6 1553.5,2645.5 1554.7,2643.1 1555.8,2665.5 1557.0,2654.3 1558.1,2656.4 1559.3,2659.4 1560.5,2675.8 1561.6,2647.6 1562.8,2665.6 1563.9,2654.3 1565.1,2654.0 1566.3,2677.8 1567.4,2682.9 1568.6,2660.1 1569.7,2672.3"/>
<polyline class="cv" stroke="#f00" points="219.5,2676.8 220.7,2653.8 221.8,2705.6 223.0,2664.6 224.1,2698.3 225.3,2700.6 226.4,2688.7 227.6,2679.2 228.8,2711.9 229.9,2678.4 231.1,2696.9 232.2,2710.4 233.4,2715.9 234.6,2685.5 235.7,2709.8 236.9,2679.2 238.0,2684.5 239.2,2626.8 240.3,2715.9 241.5,2652.6 242.7,2687.9 243.8,2684.3 245.0,2658.3 246.1,2617.1 247.3,2664.4 248.5,2706.4 249.6,2680.1 250.8,2692.8 251.9,2720.9 253.1,2674.6 254.2,2692.7 255.4,2623.7 256.6,2671.3 257.7,2682.1 258.9,2624.4 260.0,2655.1 261.2,2683.7 262.3,2705.2 263.5,2660.2 264.7,2647.6 265.8,2636.7 267.0,2630.3 268.1,2647.0 269.3,2661.8 270.5,2635.9 271.6,2625.6 272.8,2663.4 273.9,2650.0 275.1,2661.9 276.2,2661.5 277.4,2629.6 278.6,2641.9 279.7,2647.7 280.9,2630.0 282.0,2617.6 283.2,2612.8 284.3,2653.4 285.5,2680.9 286.7,2631.6 287.8,2632.0 289.0,2636.7 290.1,2589.0 291.3,2632.7 292.5,2624.9 293.6,2617.6 294.8,2664.1 295.9,2639.5 297.1,2656.2 298.2,2666.3 299.4,2646.0 300.6,2638.3 301.7,2609.1 302.9,2630.8 304.0,2607.2 305.2,2558.0 306.4,2588.2 307.5,2590.2 308.7,2621.9 309.8,2617.3 311.0,2618.1 312.1,2633.7 313.3,2597.9 314.5,2589.4 315.6,2611.8 316.8,2597.1 317.9,2615.1 319.1,2560.9 320.2,2556.2 321.4,2626.5 322.6,2585.5 323.7,2607.5 324.9,2547.8 326.0,2602.5 327.2,2581.7 328.4,2574.4 329.5,2606.1 330.7,2530.3 331.8,2574.8 333.0,2572.8 334.1,2549.6 335.3,2592.7 336.5,2524.5 337.6,2535.7 338.8,2568.9 339.9,2532.7 341.1,2562.7 342.2,2534.4 343.4,2548.1 344.6,2475.5 345.7,2584.9 346.9,2552.4 348.0,2571.1 349.2,2542.3 350.4,2511.4 351.5,2544.9 352.7,2502.6 353.8,2579.5 355.0,2484.7 356.1,2505.0 357.3,2497.7 358.5,2528.0 359.6,2555.2 360.8,2523.4 361.9,2520.5 363.1,2508.6 364.3,2540.0 365.4,2465.2 366.6,2459.9 367.7,2497.5 368.9,2498.6 370.0,2480.9 371.2,2458.7 372.4,2524.4 373.5,2509.3 374.7,2459.5 375.8,2486.1 377.0,2480.5 378.1,2480.2 379.3,2508.4 380.5,2489.2 381.6,2440.5 382.8,2489.8 383.9,2479.6 385.1,2466.8 386.3,2453.2 387.4,2446.0 388.6,2479.8 389.7,2448.8 390.9,2421.7 392.0,2486.0 393.2,2431.7 394.4,2460.4 395.5,2464.4 396.7,2476.2 397.8,2416.3 399.0,2382.8 400.1,2467.4 401.3,2417.7 402.5,2425.9 403.6,2442.8 404.8,2409.3 405.9,2430.9 407.1,2418.5 408.3,2413.8 409.4,2444.7 410.6,2363.7 411.7,2415.8 412.9,2406.6 414.0,2424.2 415.2,2423.8 416.4,2413.8 417.5,2411.7 418.7,2368.6 419.8,2349.0 421.0,2400.5 422.2,2413.4 423.3,2387.1 424.5,2420.0 425.6,2404.6 426.8,2365.7 427.9,2342.8 429.1,2396.3 430.3,2392.2 431.4,2373.3 432.6,2379.3 433.7,2371.8 434.9,2355.2 436.0,2394.3 437.2,2378.6 438.4,2359.0 439.5,2342.3 440.7,2374.9 441.8,2392.9 443.0,2391.6 444.2,2351.1 445.3,2373.4 446.5,2357.7 447.6,2353.2 448.8,2363.4 449.9,2314.1 451.1,2323.4 452.3,2351.7 453.4,2349.7 454.6,2318.6 455.7,2331.3 456.9,2295.0 458.0,2292.2 459.2,2323.9 460.4,2322.2 461.5,2352.4 462.7,2335.8 463.8,2361.8 465.0,2327.1 466.2,2309.0 467.3,2339.0 468.5,2313.5 469.6,2291.9 470.8,2319.2 471.9,2302.2 473.1,2241.4 474.3,2298.3 475.4,2294.0 476.6,2252.4 477.7,2289.4 478.9,2308.1 480.1,2274.2 481.2,2305.7 482.4,2272.7 483.5,2272.5 484.7,2303.6 485.8,2298.1 487.0,2308.2 488.2,2320.0 489.3,2280.4 490.5,2262.6 491.6,2285.5 492.8,2290.9 493.9,2273.7 495.1,2267.2 496.3,2305.1 497.4,2259.8 498.6,2305.8 499.7,2275.8 500.9,2244.2 502.1,2304.7 503.2,2246.0 504.4,2279.6 505.5,2293.2 506.7,2258.4 507.8,2301.9 509.0,2235.6 510.2,2247.2 511.3,2259.5 512.5,2276.4 513.6,2247.7 514.8,2283.1 515.9,2218.7 517.1,2209.7 518.3,2240.3 519.4,2278.4 520.6,2290.5 521.7,2259.9 522.9,2321.8 524.1,2260.6 525.2,2261.2 526.4,2310.8 527.5,2260.1 528.7,2295.8 529.8,2266.1 531.0,2277.1 532.2,2291.9 533.3,2277.6 534.5,2301.1 535.6,2272.1 536.8,2291.6 538.0,2293.8 539.1,2283.1 540.3,2295.3 541.4,2325.6 542.6,2273.4 543.7,2275.5 544.9,2287.3 546.1,2281.4 547.2,2293.4 548.4,2297.4 549.5,2319.1 550.7,2344.6 551.8,2322.9 553.0,2342.5 554.2,2337.0 555.3,2348.5 556.5,2376.8 557.6,2355.8 558.8,2376.9 560.0,2343.4 561.1,2399.5 562.3,2401.7 563.4,2384.3 564.6,2379.8 565.7,2402.0 566.9,2368.9 568.1,2380.2 569.2,2379.6 570.4,2388.6 571.5,2440.2 572.7,2407.1 573.8,2432.5 575.0,2412.2 576.2,2425.4 577.3,2405.9 578.5,2429.7 579.6,2475.8 580.8,2429.2 582.0,2436.7 583.1,2445.8 584.3,2452.9 585.4,2470.2 586.6,2470.1 587.7,2466.8 588.9,2447.0 590.1,2469.6 591.2,2479.1 592.4,2496.6 593.5,2453.6 594.7,2466.8 595.9,2475.5 597.0,2477.9 598.2,2454.3 599.3,2465.1 600.5,2483.4 601.6,2522.4 602.8,2490.2 604.0,2529.0 605.1,2526.7 606.3,2522.9 607.4,2530.5 608.6,2578.0 609.7,2510.9 610.9,2525.0 612.1,2535.5 613.2,2506.6 614.4,2538.7 615.5,2558.4 616.7,2495.5 617.9,2547.5 619.0,2600.5 620.2,2529.3 621.3,2561.2 622.5,2565.1 623.6,2556.8 624.8,2591.2 626.0,2571.7 627.1,2549.2 628.3,2538.5 629.4,2591.2 630.6,2586.4 631.7,2627.1 632.9,2587.9 634.1,2612.5 635.2,2619.9 636.4,2596.7 637.5,2618.3 638.7,2611.8 639.9,2610.5 641.0,2611.8 642.2,2628.1 643.3,2626.3 644.5,2654.9 645.6,2611.6 646.8,2637.5 648.0,2636.0 649.1,2631.0 650.3,2630.4 651.4,2610.5 652.6,2615.9 653.8,2605.0 654.9,2585.4 656.1,2578.3 657.2,2629.0 658.4,2630.0 659.5,2638.8 660.7,2632.4 661.9,2665.6 663.0,2621.9 664.2,2620.6 665.3,2627.6 666.5,2637.6 667.6,2643.5 668.8,2657.0 670.0,2656.1 671.1,2642.9 672.3,2637.3 673.4,2672.5 674.6,2636.9 675.8,2618.7 676.9,2636.7 678.1,2641.7 679.2,2653.3 680.4,2663.8 681.5,2662.8 682.7,2642.9 683.9,2647.9 685.0,2676.2 686.2,2660.4 687.3,2647.7 688.5,2643.0 689.6,2612.7 690.8,2667.4 692.0,2637.4 693.1,2632.4 694.3,2630.9 695.4,2647.3 696.6,2669.8 697.8,2674.3 698.9,2692.0 700.1,2654.1 701.2,2674.6 702.4,2625.6 703.5,2657.3 704.7,2643.6 705.9,2711.1 707.0,2652.1 708.2,2639.7 709.3,2678.4 710.5,2660.7 711.7,2628.7 712.8,2658.6 714.0,2649.1 715.1,2696.9 716.3,2604.6 717.4,2692.1 718.6,2654.2 719.8,2705.9 720.9,2620.4 722.1,2656.2 723.2,2644.3 724.4,2647.4 725.5,2644.2 726.7,2660.6 727.9,2656.0 729.0,2624.7 730.2,2637.6 731.3,2639.2 732.5,2678.6 733.7,2656.1 734.8,2685.5 736.0,2644.6 737.1,2677.2 738.3,2642.5 739.4,2658.9 740.6,2624.5 741.8,2661.2 742.9,2619.9 744.1,2668.6 745.2,2685.8 746.4,2672.8 747.5,2674.7 748.7,2637.7 749.9,2615.6 751.0,2685.0 752.2,2659.8 753.3,2675.0 754.5,2631.1 755.7,2655.7 756.8,2653.7 758.0,2683.1 759.1,2636.5 760.3,2633.7 761.4,2603.5 762.6,2666.0 763.8,2689.9 764.9,2678.3 766.1,2685.0 767.2,2659.6 768.4,2684.6 769.6,2672.0 770.7,2648.7 771.9,2656.0 773.0,2655.4 774.2,2633.3 775.3,2656.0 776.5,2666.5 777.7,2610.8 778.8,2636.4 780.0,2650.6 781.1,2606.8 782.3,2610.1 783.4,2582.7 784.6,2628.4 785.8,2636.9 786.9,2641.4 788.1,2606.2 789.2,2631.0 790.4,2631.1 791.6,2617.6 792.7,2645.8 793.9,2634.1 795.0,2591.8 796.2,2612.6 797.3,2633.8 798.5,2581.5 799.7,2611.2 800.8,2625.0 802.0,2630.2 803.1,2604.6 804.3,2615.3 805.4,2601.2 806.6,2622.0 807.8,2614.2 808.9,2619.1 810.1,2577.8 811.2,2574.8 812.4,2607.3 813.6,2569.0 814.7,2566.3 815.9,2579.1 817.0,2595.8 818.2,2550.6 819.3,2602.0 820.5,2550.3 821.7,2578.3 822.8,2575.9 824.0,2535.9 825.1,2540.4 826.3,2584.2 827.5,2535.8 828.6,2565.1 829.8,2541.7 830.9,2524.2 832.1,2591.2 833.2,2535.9 834.4,2550.9 835.6,2477.7 836.7,2509.3 837.9,2507.3 839.0,2534.7 840.2,2549.4 841.3,2519.5 842.5,2544.1 843.7,2514.2 844.8,2524.9 846.0,2518.0 847.1,2489.0 848.3,2525.0 849.5,2517.0 850.6,2483.4 851.8,2520.6 852.9,2511.7 854.1,2510.3 855.2,2492.3 856.4,2501.7 857.6,2538.7 858.7,2501.0 859.9,2509.6 861.0,2506.7 862.2,2502.0 863.3,2453.7 864.5,2467.6 865.7,2452.4 866.8,2467.6 868.0,2464.1 869.1,2466.9 870.3,2507.4 871.5,2487.2 872.6,2501.1 873.8,2478.3 874.9,2489.9 876.1,2520.3 877.2,2528.2 878.4,2499.1 879.6,2525.7 880.7,2496.4 881.9,2530.8 883.0,2511.4 884.2,2566.6 885.4,2543.2 886.5,2569.4 887.7,2531.3 888.8,2515.9 890.0,2559.4 891.1,2551.5 892.3,2527.7 893.5,2560.5 894.6,2534.3 895.8,2553.6 896.9,2536.6 898.1,2566.1 899.2,2575.5 900.4,2535.5 901.6,2563.8 902.7,2550.2 903.9,2564.1 905.0,2538.9 906.2,2523.1 907.4,2521.9 908.5,2564.0 909.7,2559.8 910.8,2569.5 912.0,2578.8 913.1,2565.4 914.3,2569.9 915.5,2561.4 916.6,2576.0 917.8,2598.2 918.9,2616.6 920.1,2601.8 921.2,2627.1 922.4,2571.9 923.6,2617.2 924.7,2613.3 925.9,2614.0 927.0,2591.8 928.2,2587.6 929.4,2617.7 930.5,2612.4 931.7,2631.1 932.8,2613.9 934.0,2615.0 935.1,2591.5 936.3,2609.2 937.5,2607.8 938.6,2622.1 939.8,2639.3 940.9,2628.6 942.1,2643.8 943.3,2651.7 944.4,2631.7 945.6,2629.0 946.7,2626.7 947.9,2653.0 949.0,2653.0 950.2,2612.5 951.4,2660.0 952.5,2636.3 953.7,2625.6 954.8,2644.8 956.0,2659.1 957.1,2627.4 958.3,2633.8 959.5,2642.1 960.6,2633.7 961.8,2661.8 962.9,2630.8 964.1,2644.0 965.3,2655.7 966.4,2673.6 967.6,2658.8 968.7,2654.1 969.9,2652.1 971.0,2682.1 972.2,2660.1 973.4,2656.9 974.5,2645.3 975.7,2691.4 976.8,2646.4 978.0,2657.1 979.1,2661.4 980.3,2666.6 981.5,2655.0 982.6,2657.6 983.8,2642.7 984.9,2658.0 986.1,2659.0 987.3,2671.9 988.4,2650.1 989.6,2650.5 990.7,2667.6 991.9,2681.2 993.0,2644.6 994.2,2677.6 995.4,2656.5 996.5,2650.8 997.7,2662.4 998.8,2668.7 1000.0,2676.7 1001.2,2654.3 1002.3,2680.8 1003.5,2669.4 1004.6,2648.4 1005.8,2677.2 1006.9,2692.3 1008.1,2671.9 1009.3,2681.0 1010.4,2667.7 1011.6,2681.7 1012.7,2648.9 1013.9,2698.7 1015.0,2681.7 1016.2,2658.1 1017.4,2686.2 1018.5,2656.5 1019.7,2692.6 1020.8,2671.8 1022.0,2665.9 1023.2,2650.1 1024.3,2651.0 1025.5,2649.4 1026.6,2656.5 1027.8,2665.7 1028.9,2674.0 1030.1,2672.8 1031.3,2650.9 1032.4,2686.9 1033.6,2684.2 1034.7,2682.5 1035.9,2667.0 1037.0,2652.5 1038.2,2661.3 1039.4,2667.1 1040.5,2643.0 1041.7,2651.1 1042.8,2675.5 1044.0,2662.3 1045.2,2651.4 1046.3,2675.3 1047.5,2675.7 1048.6,2673.7 1049.8,2642.2 1050.9,2638.6 1052.1,2667.6 1053.3,2662.5 1054.4,2664.8 1055.6,2675.9 1056.7,2667.9 1057.9,2662.2 1059.1,2663.8 1060.2,2663.4 1061.4,2660.9 1062.5,2657.5 1063.7,2674.7 1064.8,2657.4 1066.0,2677.2 1067.2,2654.2 1068.3,2664.7 1069.5,2658.2 1070.6,2657.7 1071.8,2631.5 1072.9,2645.6 1074.1,2645.4 1075.3,2658.3 1076.4,2655.1 1077.6,2655.5 1078.7,2658.8 1079.9,2660.4 1081.1,2668.6 1082.2,2666.2 1083.4,2670.8 1084.5,2658.4 1085.7,2686.3 1086.8,2656.0 1088.0,2688.4 1089.2,2682.9 1090.3,2655.2 1091.5,2667.6 1092.6,2662.8 1093.8,2657.5 1094.9,2688.7 1096.1,2671.1 1097.3,2682.0 1098.4,2672.3 1099.6,2686.7 1100.7,2674.3 1101.9,2652.5 1103.1,2682.1 1104.2,2675.5 1105.4,2685.3 1106.5,2670.3 1107.7,2664.3 1108.8,2665.0 1110.0,2667.5 1111.2,2677.9 1112.3,2680.9 1113.5,2666.1 1114.6,2671.9 1115.8,2644.0 1117.0,2668.1 1118.1,2678.1 1119.3,2681.1 1120.4,2664.3 1121.6,2670.2 1122.7,2680.8 1123.9,2683.0 1125.1,2674.7 1126.2,2664.2 1127.4,2668.5 1128.5,2659.0 1129.7,2669.7 1130.8,2661.8 1132.0,2681.2 1133.2,2673.9 1134.3,2681.0 1135.5,2642.9 1136.6,2673.0 1137.8,2665.1 1139.0,2687.8 1140.1,2688.1 1141.3,2677.4 1142.4,2674.0 1143.6,2671.6 1144.7,2657.6 1145.9,2692.4 1147.1,2678.6 1148.2,2669.0 1149.4,2668.1 1150.5,2678.1 1151.7,2672.7 1152.8,2674.9 1154.0,2676.5 1155.2,2673.6 1156.3,2655.6 1157.5,2662.8 1158.6,2668.9 1159.8,2664.2 1161.0,2689.9 1162.1,2662.5 1163.3,2673.9 1164.4,2658.2 1165.6,2672.6 1166.7,2663.8 1167.9,2668.9 1169.1,2649.5 1170.2,2689.3 1171.4,2664.1 1172.5,2675.0 1173.7,2688.9 1174.9,2668.4 1176.0,2678.3 1177.2,2672.7 1178.3,2682.2 1179.5,2666.3 1180.6,2685.1 1181.8,2672.6 1183.0,2669.0 1184.1,2673.4 1185.3,2687.9 1186.4,2677.4 1187.6,2684.2 1188.7,2689.4 1189.9,2674.1 1191.1,2674.3 1192.2,2686.5 1193.4,2667.5 1194.5,2682.7 1195.7,2669.3 1196.9,2677.4 1198.0,2676.7 1199.2,2674.2 1200.3,2675.5 1201.5,2676.1 1202.6,2669.7 1203.8,2680.2 1205.0,2659.1 1206.1,2666.4 1207.3,2670.2 1208.4,2668.7 1209.6,2688.1 1210.7,2678.6 1211.9,2690.6 1213.1,2689.3 1214.2,2677.8 1215.4,2698.9 1216.5,2677.6 1217.7,2670.5 1218.9,2683.8 1220.0,2683.2 1221.2,2664.4 1222.3,2682.1 1223.5,2669.3 1224.6,2690.8 1225.8,2666.9 1227.0,2703.7 1228.1,2668.9 1229.3,2673.3 1230.4,2669.2 1231.6,2667.7 1232.8,2663.6 1233.9,2666.3 1235.1,2703.2 1236.2,2665.7 1237.4,2668.8 1238.5,2668.7 1239.7,2683.5 1240.9,2686.5 1242.0,2665.6 1243.2,2658.6 1244.3,2671.7 1245.5,2672.1 1246.6,2677.7 1247.8,2663.7 1249.0,2644.5 1250.1,2657.4 1251.3,2660.9 1252.4,2654.3 1253.6,2660.0 1254.8,2666.2 1255.9,2657.6 1257.1,2652.3 1258.2,2673.5 1259.4,2661.2 1260.5,2673.0 1261.7,2658.9 1262.9,2641.8 1264.0,2660.2 1265.2,2650.4 1266.3,2669.4 1267.5,2665.5 1268.6,2677.4 1269.8,2661.6 1271.0,2652.2 1272.1,2679.0 1273.3,2658.8 1274.4,2671.1 1275.6,2687.9 1276.8,2665.8 1277.9,2683.0 1279.1,2670.6 1280.2,2680.0 1281.4,2665.7 1282.5,2679.5 1283.7,2681.6 1284.9,2677.9 1286.0,2688.5 1287.2,2666.4 1288.3,2685.0 1289.5,2680.3 1290.7,2699.0 1291.8,2691.4 1293.0,2663.2 1294.1,2675.5 1295.3,2684.0 1296.4,2679.1 1297.6,2664.8 1298.8,2683.9 1299.9,2684.1 1301.1,2680.1 1302.2,2674.6 1303.4,2675.9 1304.5,2665.1 1305.7,2675.5 1306.9,2660.8 1308.0,2682.0 1309.2,2678.3 1310.3,2690.0 1311.5,2678.2 1312.7,2671.9 1313.8,2669.3 1315.0,2672.9 1316.1,2676.5 1317.3,2670.3 1318.4,2673.6 1319.6,2662.1 1320.8,2688.0 1321.9,2676.2 1323.1,2686.1 1324.2,2670.7 1325.4,2653.7 1326.5,2677.3 1327.7,2692.4 1328.9,2663.6 1330.0,2661.3 1331.2,2669.7 1332.3,2673.7 1333.5,2656.7 1334.7,2664.8 1335.8,2669.3 1337.0,2643.3 1338.1,2668.2 1339.3,2678.3 1340.4,2678.4 1341.6,2681.6 1342.8,2676.1 1343.9,2659.8 1345.1,2660.6 1346.2,2678.7 1347.4,2672.4 1348.6,2671.6 1349.7,2669.4 1350.9,2695.8 1352.0,2680.7 1353.2,2667.1 1354.3,2669.1 1355.5,2693.3 1356.7,2687.1 1357.8,2677.9 1359.0,2685.9 1360.1,2677.3 1361.3,2666.3 1362.4,2679.6 1363.6,2668.1 1364.8,2661.2 1365.9,2685.6 1367.1,2668.7 1368.2,2685.0 1369.4,2666.3 1370.6,2667.4 1371.7,2677.1 1372.9,2675.7 1374.0,2685.3 1375.2,2682.2 1376.3,2661.3 1377.5,2686.5 1378.7,2683.2 1379.8,2678.2 1381.0,2672.1 1382.1,2660.0 1383.3,2665.0 1384.4,2689.4 1385.6,2656.6 1386.8,2675.0 1387.9,2688.1 1389.1,2670.5 1390.2,2670.6 1391.4,2675.6 1392.6,2680.0 1393.7,2681.9 1394.9,2669.3 1396.0,2663.7 1397.2,2655.3 1398.3,2682.5 1399.5,2674.1 1400.7,2680.1 1401.8,2693.6 1403.0,2668.2 1404.1,2668.8 1405.3,2665.3 1406.5,2664.1 1407.6,2680.0 1408.8,2667.2 1409.9,2700.0 1411.1,2672.6 1412.2,2681.2 1413.4,2665.6 1414.6,2657.7 1415.7,2675.8 1416.9,2687.6 1418.0,2653.6 1419.2,2679.4 1420.3,2681.3 1421.5,2666.3 1422.7,2660.1 1423.8,2662.4 1425.0,2660.1 1426.1,2658.7 1427.3,2659.1 1428.5,2662.1 1429.6,2666.4 1430.8,2687.1 1431.9,2664.4 1433.1,2659.4 1434.2,2666.4 1435.4,2668.3 1436.6,2687.1 1437.7,2674.9 1438.9,2682.3 1440.0,2666.2 1441.2,2665.3 1442.3,2643.8 1443.5,2677.5 1444.7,2656.8 1445.8,2662.1 1447.0,2671.7 1448.1,2671.3 1449.3,2654.5 1450.5,2652.7 1451.6,2670.9 1452.8,2663.0 1453.9,2686.3 1455.1,2671.4 1456.2,2664.8 1457.4,2662.1 1458.6,2651.8 1459.7,2669.3 1460.9,2657.4 1462.0,2674.5 1463.2,2676.3 1464.4,2688.0 1465.5,2677.9 1466.7,2669.9 1467.8,2647.0 1469.0,2659.3 1470.1,2661.0 1471.3,2661.0 1472.5,2656.4 1473.6,2668.9 1474.8,2671.9 1475.9,2680.7 1477.1,2667.6 1478.2,2670.1 1479.4,2658.9 1480.6,2660.2 1481.7,2653.9 1482.9,2678.8 1484.0,2648.7 1485.2,2648.5 1486.4,2640.0 1487.5,2648.1 1488.7,2657.8 1489.8,2668.5 1491.0,2646.2 1492.1,2658.3 1493.3,2644.0 1494.5,2663.7 1495.6,2661.6 1496.8,2655.9 1497.9,2679.4 1499.1,2647.7 1500.2,2647.1 1501.4,2637.2 1502.6,2640.6 1503.7,2657.4 1504.9,2646.1 1506.0,2646.9 1507.2,2655.6 1508.4,2658.0 1509.5,2653.1 1510.7,2655.4 1511.8,2647.4 1513.0,2659.2 1514.1,2653.1 1515.3,2656.3 1516.5,2642.1 1517.6,2663.1 1518.8,2640.1 1519.9,2653.3 1521.1,2670.7 1522.3,2656.7 1523.4,2664.8 1524.6,2660.9 1525.7,2653.4 1526.9,2645.6 1528.0,2657.0 1529.2,2644.6 1530.4,2664.2 1531.5,2640.3 1532.7,2664.9 1533.8,2657.9 1535.0,2653.8 1536.1,2650.3 1537.3,2644.5 1538.5,2639.9 1539.6,2656.1 1540.8,2632.9 1541.9,2638.8 1543.1,2651.7 1544.3,2651.1 1545.4,2638.1 1546.6,2646.5 1547.7,2654.4 1548.9,2656.6 1550.0,2644.5 1551.2,2639.6 1552.4,2664.4 1553.5,2650.1 1554.7,2664.2 1555.8,2651.1 1557.0,2648.2 1558.1,2651.7 1559.3,2647.8 1560.5,2664.1 1561.6,2648.8 1562.8,2663.1 1563.9,2650.9 1565.1,2661.5 1566.3,2663.8 1567.4,2658.2 1568.6,2667.4 1569.7,2658.7"/>
</g>
<rect class="ax" x="217" y="1708" width="5" height="1018"/>
<rect class="ax" x="1568" y="1708" width="5" height="1018"/>
<rect class="ax" x="217" y="1708" width="1356" height="5"/>
<rect class="ax" x="217" y="2721" width="1356" height="5"/>
<rect class="ax" x="207" y="2721" width="13" height="5"/>
<rect class="ax" x="197" y="2673" width="23" height="5"/>
<text class="tl" transform="translate(164.81,2686.60) scale(0.9280,1)">0</text>
<rect class="ax" x="207" y="2625" width="13" height="5"/>
<rect class="ax" x="197" y="2576" width="23" height="5"/>
<text class="tl" transform="translate(120.73,2589.60) scale(0.9280,1)">100</text>
<rect class="ax" x="207" y="2528" width="13" height="5"/>
<rect class="ax" x="197" y="2480" width="23" height="5"/>
<text class="tl" transform="translate(120.73,2493.60) scale(0.9280,1)">200</text>
<rect class="ax" x="207" y="2432" width="13" height="5"/>
<rect class="ax" x="197" y="2383" width="23" height="5"/>
<text class="tl" transform="translate(120.73,2396.60) scale(0.9280,1)">300</text>
<rect class="ax" x="207" y="2335" width="13" height="5"/>
<rect class="ax" x="197" y="2287" width="23" height="5"/>
<text class="tl" transform="translate(120.73,2300.60) scale(0.9280,1)">400</text>
<rect class="ax" x="207" y="2239" width="13" height="5"/>
<rect class="ax" x="197" y="2190" width="23" height="5"/>
<text class="tl" transform="translate(120.73,2203.60) scale(0.9280,1)">500</text>
<rect class="ax" x="207" y="2142" width="13" height="5"/>
<rect class="ax" x="197" y="2094" width="23" height="5"/>
<text class="tl" transform="translate(120.73,2107.60) scale(0.9280,1)">600</text>
<rect class="ax" x="207" y="2046" width="13" height="5"/>
<rect class="ax" x="197" y="1997" width="23" height="5"/>
<text class="tl" transform="translate(120.73,2010.60) scale(0.9280,1)">700</text>
<rect class="ax" x="207" y="1949" width="13" height="5"/>
<rect class="ax" x="197" y="1901" width="23" height="5"/>
<text class="tl" transform="translate(120.73,1914.60) scale(0.9280,1)">800</text>
<rect class="ax" x="207" y="1853" width="13" height="5"/>
<rect class="ax" x="197" y="1804" width="23" height="5"/>
<text class="tl" transform="translate(120.73,1817.60) scale(0.9280,1)">900</text>
<rect class="ax" x="207" y="1756" width="13" height="5"/>
<rect class="ax" x="197" y="1708" width="23" height="5"/>
<text class="tl" transform="translate(98.70,1721.60) scale(0.9280,1)">1000</text>
<rect class="ax" x="217" y="2724" width="5" height="22"/>
<text class="tl" transform="translate(197.76,2788.70) scale(0.9280,1)">10</text>
<rect class="ax" x="314" y="2724" width="5" height="12"/>
<rect class="ax" x="410" y="2724" width="5" height="22"/>
<text class="tl" transform="translate(390.76,2788.70) scale(0.9280,1)">20</text>
<rect class="ax" x="507" y="2724" width="5" height="12"/>
<rect class="ax" x="603" y="2724" width="5" height="22"/>
<text class="tl" transform="translate(583.76,2788.70) scale(0.9280,1)">30</text>
<rect class="ax" x="700" y="2724" width="5" height="12"/>
<rect class="ax" x="796" y="2724" width="5" height="22"/>
<text class="tl" transform="translate(776.76,2788.70) scale(0.9280,1)">40</text>
<rect class="ax" x="893" y="2724" width="5" height="12"/>
<rect class="ax" x="989" y="2724" width="5" height="22"/>
<text class="tl" transform="translate(969.76,2788.70) scale(0.9280,1)">50</text>
<rect class="ax" x="1086" y="2724" width="5" height="12"/>
<rect class="ax" x="1182" y="2724" width="5" height="22"/>
<text class="tl" transform="translate(1162.76,2788.70) scale(0.9280,1)">60</text>
<rect class="ax" x="1279" y="2724" width="5" height="12"/>
<rect class="ax" x="1375" y="2724" width="5" height="22"/>
<text class="tl" transform="translate(1355.76,2788.70) scale(0.9280,1)">70</text>
<rect class="ax" x="1472" y="2724" width="5" height="12"/>
<rect class="ax" x="1568" y="2724" width="5" height="22"/>
<text class="tl" transform="translate(1548.76,2788.70) scale(0.9280,1)">80</text>
<text class="atl" transform="translate(63.05,2404.50) rotate(-90) scale(0.9862,1)">Intensity [a.u.]</text>
<text class="atl" transform="translate(782.84,2876.80) scale(0.9696,1)">2 Theta [<tspan font-size="29.5px" dx="1.98" dy="-26.9">o</tspan><tspan dx="0.30" dy="26.9">]</tspan></text>
<line class="lg" stroke="#000" x1="1240.4" y1="1759.5" x2="1349.7" y2="1759.5"/>
<text class="ttl" transform="translate(1362.29,1775.90) scale(0.9533,1)">RF B</text>
<line class="lg" stroke="#f00" x1="1240.4" y1="1820.5" x2="1349.7" y2="1820.5"/>
<text class="ttl" transform="translate(1362.27,1836.90) scale(0.9565,1)">RF 7/1 B</text>
<text class="cap" y="1423.0"><tspan x="806.2">(</tspan><tspan x="833.2" font-weight="bold">a</tspan><tspan x="875.2">)</tspan></text>
<text class="cap" y="3094.4"><tspan x="802.2">(</tspan><tspan x="831.4" font-weight="bold">b</tspan><tspan x="880.7">)</tspan></text>
</svg></body></html>
